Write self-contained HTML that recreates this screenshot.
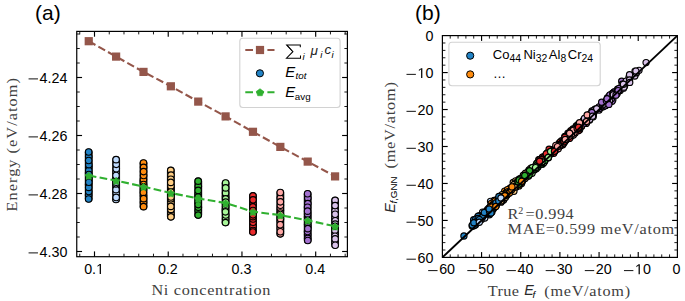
<!DOCTYPE html><html><head><meta charset="utf-8"><style>html,body{margin:0;padding:0;background:#fff;}svg{display:block}</style></head><body><svg width="685" height="301" viewBox="0 0 685 301"><rect width="685" height="301" fill="#fff"/><g><rect x="84.8" y="148.4" width="7.9" height="54.1" rx="3.95" fill="#111"/><circle cx="88.63" cy="194.9" r="3.25" fill="#2283c6" stroke="#000" stroke-width="1.15"/><circle cx="88.77" cy="167.37" r="3.25" fill="#2283c6" stroke="#000" stroke-width="1.15"/><circle cx="88.66" cy="184.41" r="3.25" fill="#2283c6" stroke="#000" stroke-width="1.15"/><circle cx="88.63" cy="172.89" r="3.25" fill="#2283c6" stroke="#000" stroke-width="1.15"/><circle cx="88.81" cy="180.28" r="3.25" fill="#2283c6" stroke="#000" stroke-width="1.15"/><circle cx="88.77" cy="191.47" r="3.25" fill="#2283c6" stroke="#000" stroke-width="1.15"/><circle cx="88.79" cy="176.65" r="3.25" fill="#2283c6" stroke="#000" stroke-width="1.15"/><circle cx="88.75" cy="178.06" r="3.25" fill="#2283c6" stroke="#000" stroke-width="1.15"/><circle cx="88.76" cy="170.46" r="3.25" fill="#2283c6" stroke="#000" stroke-width="1.15"/><circle cx="88.83" cy="164.67" r="3.25" fill="#2283c6" stroke="#000" stroke-width="1.15"/><circle cx="88.74" cy="156.67" r="3.25" fill="#2283c6" stroke="#000" stroke-width="1.15"/><circle cx="88.88" cy="174.52" r="3.25" fill="#2283c6" stroke="#000" stroke-width="1.15"/><circle cx="88.71" cy="187.42" r="3.25" fill="#2283c6" stroke="#000" stroke-width="1.15"/><circle cx="88.67" cy="160.51" r="3.25" fill="#2283c6" stroke="#000" stroke-width="1.15"/><circle cx="88.65" cy="151.95" r="3.25" fill="#2283c6" stroke="#000" stroke-width="1.15"/><circle cx="88.83" cy="182.2" r="3.25" fill="#2283c6" stroke="#000" stroke-width="1.15"/><circle cx="88.62" cy="198.95" r="3.25" fill="#2283c6" stroke="#000" stroke-width="1.15"/><rect x="112.17" y="156.1" width="7.9" height="46.9" rx="3.95" fill="#111"/><circle cx="115.99" cy="199.45" r="3.25" fill="#bfdbff" stroke="#000" stroke-width="1.15"/><circle cx="116.18" cy="192.87" r="3.25" fill="#bfdbff" stroke="#000" stroke-width="1.15"/><circle cx="116.16" cy="172.31" r="3.25" fill="#bfdbff" stroke="#000" stroke-width="1.15"/><circle cx="116.27" cy="168.78" r="3.25" fill="#bfdbff" stroke="#000" stroke-width="1.15"/><circle cx="116.22" cy="164.33" r="3.25" fill="#bfdbff" stroke="#000" stroke-width="1.15"/><circle cx="116.06" cy="178.42" r="3.25" fill="#bfdbff" stroke="#000" stroke-width="1.15"/><circle cx="116.09" cy="159.65" r="3.25" fill="#bfdbff" stroke="#000" stroke-width="1.15"/><circle cx="116.17" cy="197.46" r="3.25" fill="#bfdbff" stroke="#000" stroke-width="1.15"/><circle cx="115.98" cy="180.07" r="3.25" fill="#bfdbff" stroke="#000" stroke-width="1.15"/><circle cx="116.11" cy="186.11" r="3.25" fill="#bfdbff" stroke="#000" stroke-width="1.15"/><circle cx="116.02" cy="189.63" r="3.25" fill="#bfdbff" stroke="#000" stroke-width="1.15"/><circle cx="116.01" cy="175.48" r="3.25" fill="#bfdbff" stroke="#000" stroke-width="1.15"/><circle cx="115.99" cy="183.87" r="3.25" fill="#bfdbff" stroke="#000" stroke-width="1.15"/><circle cx="116.2" cy="182.17" r="3.25" fill="#bfdbff" stroke="#000" stroke-width="1.15"/><rect x="139.54" y="159.4" width="7.9" height="50.8" rx="3.95" fill="#111"/><circle cx="143.34" cy="181.89" r="3.25" fill="#ff8c0f" stroke="#000" stroke-width="1.15"/><circle cx="143.47" cy="189.48" r="3.25" fill="#ff8c0f" stroke="#000" stroke-width="1.15"/><circle cx="143.45" cy="179.6" r="3.25" fill="#ff8c0f" stroke="#000" stroke-width="1.15"/><circle cx="143.51" cy="195.76" r="3.25" fill="#ff8c0f" stroke="#000" stroke-width="1.15"/><circle cx="143.63" cy="175.48" r="3.25" fill="#ff8c0f" stroke="#000" stroke-width="1.15"/><circle cx="143.55" cy="184.46" r="3.25" fill="#ff8c0f" stroke="#000" stroke-width="1.15"/><circle cx="143.49" cy="162.95" r="3.25" fill="#ff8c0f" stroke="#000" stroke-width="1.15"/><circle cx="143.53" cy="186.83" r="3.25" fill="#ff8c0f" stroke="#000" stroke-width="1.15"/><circle cx="143.54" cy="202.18" r="3.25" fill="#ff8c0f" stroke="#000" stroke-width="1.15"/><circle cx="143.36" cy="192.38" r="3.25" fill="#ff8c0f" stroke="#000" stroke-width="1.15"/><circle cx="143.61" cy="198.66" r="3.25" fill="#ff8c0f" stroke="#000" stroke-width="1.15"/><circle cx="143.57" cy="206.65" r="3.25" fill="#ff8c0f" stroke="#000" stroke-width="1.15"/><circle cx="143.6" cy="167.36" r="3.25" fill="#ff8c0f" stroke="#000" stroke-width="1.15"/><circle cx="143.58" cy="171.6" r="3.25" fill="#ff8c0f" stroke="#000" stroke-width="1.15"/><rect x="166.91" y="166.8" width="7.9" height="53.6" rx="3.95" fill="#111"/><circle cx="170.93" cy="200.92" r="3.25" fill="#ffce84" stroke="#000" stroke-width="1.15"/><circle cx="170.85" cy="188.18" r="3.25" fill="#ffce84" stroke="#000" stroke-width="1.15"/><circle cx="170.92" cy="214.11" r="3.25" fill="#ffce84" stroke="#000" stroke-width="1.15"/><circle cx="170.86" cy="195.42" r="3.25" fill="#ffce84" stroke="#000" stroke-width="1.15"/><circle cx="170.77" cy="170.35" r="3.25" fill="#ffce84" stroke="#000" stroke-width="1.15"/><circle cx="171" cy="175.1" r="3.25" fill="#ffce84" stroke="#000" stroke-width="1.15"/><circle cx="170.82" cy="179.25" r="3.25" fill="#ffce84" stroke="#000" stroke-width="1.15"/><circle cx="170.92" cy="209.39" r="3.25" fill="#ffce84" stroke="#000" stroke-width="1.15"/><circle cx="170.98" cy="203.31" r="3.25" fill="#ffce84" stroke="#000" stroke-width="1.15"/><circle cx="170.94" cy="198.74" r="3.25" fill="#ffce84" stroke="#000" stroke-width="1.15"/><circle cx="170.8" cy="206.42" r="3.25" fill="#ffce84" stroke="#000" stroke-width="1.15"/><circle cx="170.9" cy="216.85" r="3.25" fill="#ffce84" stroke="#000" stroke-width="1.15"/><circle cx="170.74" cy="190.11" r="3.25" fill="#ffce84" stroke="#000" stroke-width="1.15"/><circle cx="170.96" cy="185.97" r="3.25" fill="#ffce84" stroke="#000" stroke-width="1.15"/><circle cx="170.87" cy="193.6" r="3.25" fill="#ffce84" stroke="#000" stroke-width="1.15"/><circle cx="170.98" cy="197.02" r="3.25" fill="#ffce84" stroke="#000" stroke-width="1.15"/><circle cx="170.82" cy="192.02" r="3.25" fill="#ffce84" stroke="#000" stroke-width="1.15"/><circle cx="170.78" cy="182.39" r="3.25" fill="#ffce84" stroke="#000" stroke-width="1.15"/><rect x="194.28" y="177.6" width="7.9" height="41" rx="3.95" fill="#111"/><circle cx="198.14" cy="194.05" r="3.25" fill="#30b030" stroke="#000" stroke-width="1.15"/><circle cx="198.26" cy="210.62" r="3.25" fill="#30b030" stroke="#000" stroke-width="1.15"/><circle cx="198.18" cy="215.05" r="3.25" fill="#30b030" stroke="#000" stroke-width="1.15"/><circle cx="198.32" cy="186.22" r="3.25" fill="#30b030" stroke="#000" stroke-width="1.15"/><circle cx="198.3" cy="199.74" r="3.25" fill="#30b030" stroke="#000" stroke-width="1.15"/><circle cx="198.18" cy="181.15" r="3.25" fill="#30b030" stroke="#000" stroke-width="1.15"/><circle cx="198.37" cy="207.23" r="3.25" fill="#30b030" stroke="#000" stroke-width="1.15"/><circle cx="198.1" cy="197.02" r="3.25" fill="#30b030" stroke="#000" stroke-width="1.15"/><circle cx="198.11" cy="202.37" r="3.25" fill="#30b030" stroke="#000" stroke-width="1.15"/><circle cx="198.22" cy="204.57" r="3.25" fill="#30b030" stroke="#000" stroke-width="1.15"/><circle cx="198.18" cy="190.39" r="3.25" fill="#30b030" stroke="#000" stroke-width="1.15"/><rect x="221.65" y="179.4" width="7.9" height="46.7" rx="3.95" fill="#111"/><circle cx="225.46" cy="209.44" r="3.25" fill="#a7f598" stroke="#000" stroke-width="1.15"/><circle cx="225.63" cy="219.11" r="3.25" fill="#a7f598" stroke="#000" stroke-width="1.15"/><circle cx="225.59" cy="196.68" r="3.25" fill="#a7f598" stroke="#000" stroke-width="1.15"/><circle cx="225.65" cy="206.39" r="3.25" fill="#a7f598" stroke="#000" stroke-width="1.15"/><circle cx="225.63" cy="182.95" r="3.25" fill="#a7f598" stroke="#000" stroke-width="1.15"/><circle cx="225.63" cy="204.01" r="3.25" fill="#a7f598" stroke="#000" stroke-width="1.15"/><circle cx="225.59" cy="192.98" r="3.25" fill="#a7f598" stroke="#000" stroke-width="1.15"/><circle cx="225.73" cy="214.96" r="3.25" fill="#a7f598" stroke="#000" stroke-width="1.15"/><circle cx="225.5" cy="222.55" r="3.25" fill="#a7f598" stroke="#000" stroke-width="1.15"/><circle cx="225.61" cy="198.84" r="3.25" fill="#a7f598" stroke="#000" stroke-width="1.15"/><circle cx="225.46" cy="211.8" r="3.25" fill="#a7f598" stroke="#000" stroke-width="1.15"/><circle cx="225.69" cy="202.12" r="3.25" fill="#a7f598" stroke="#000" stroke-width="1.15"/><circle cx="225.67" cy="187.92" r="3.25" fill="#a7f598" stroke="#000" stroke-width="1.15"/><rect x="249.02" y="192.3" width="7.9" height="43.2" rx="3.95" fill="#111"/><circle cx="253.08" cy="204.22" r="3.25" fill="#eb2b2c" stroke="#000" stroke-width="1.15"/><circle cx="253.05" cy="226.37" r="3.25" fill="#eb2b2c" stroke="#000" stroke-width="1.15"/><circle cx="253" cy="230.53" r="3.25" fill="#eb2b2c" stroke="#000" stroke-width="1.15"/><circle cx="253.05" cy="222.2" r="3.25" fill="#eb2b2c" stroke="#000" stroke-width="1.15"/><circle cx="252.86" cy="231.95" r="3.25" fill="#eb2b2c" stroke="#000" stroke-width="1.15"/><circle cx="252.86" cy="206.88" r="3.25" fill="#eb2b2c" stroke="#000" stroke-width="1.15"/><circle cx="253.01" cy="218.99" r="3.25" fill="#eb2b2c" stroke="#000" stroke-width="1.15"/><circle cx="252.86" cy="212.18" r="3.25" fill="#eb2b2c" stroke="#000" stroke-width="1.15"/><circle cx="252.84" cy="216.63" r="3.25" fill="#eb2b2c" stroke="#000" stroke-width="1.15"/><circle cx="253.02" cy="214.86" r="3.25" fill="#eb2b2c" stroke="#000" stroke-width="1.15"/><circle cx="252.98" cy="210.46" r="3.25" fill="#eb2b2c" stroke="#000" stroke-width="1.15"/><circle cx="252.96" cy="195.85" r="3.25" fill="#eb2b2c" stroke="#000" stroke-width="1.15"/><circle cx="253.05" cy="199.85" r="3.25" fill="#eb2b2c" stroke="#000" stroke-width="1.15"/><rect x="276.39" y="188.9" width="7.9" height="48.5" rx="3.95" fill="#111"/><circle cx="280.31" cy="198.06" r="3.25" fill="#ffa7a5" stroke="#000" stroke-width="1.15"/><circle cx="280.28" cy="192.45" r="3.25" fill="#ffa7a5" stroke="#000" stroke-width="1.15"/><circle cx="280.39" cy="210.34" r="3.25" fill="#ffa7a5" stroke="#000" stroke-width="1.15"/><circle cx="280.32" cy="207.95" r="3.25" fill="#ffa7a5" stroke="#000" stroke-width="1.15"/><circle cx="280.25" cy="217.23" r="3.25" fill="#ffa7a5" stroke="#000" stroke-width="1.15"/><circle cx="280.28" cy="233.85" r="3.25" fill="#ffa7a5" stroke="#000" stroke-width="1.15"/><circle cx="280.23" cy="221.1" r="3.25" fill="#ffa7a5" stroke="#000" stroke-width="1.15"/><circle cx="280.42" cy="205.25" r="3.25" fill="#ffa7a5" stroke="#000" stroke-width="1.15"/><circle cx="280.47" cy="218.84" r="3.25" fill="#ffa7a5" stroke="#000" stroke-width="1.15"/><circle cx="280.38" cy="201.82" r="3.25" fill="#ffa7a5" stroke="#000" stroke-width="1.15"/><circle cx="280.3" cy="228.29" r="3.25" fill="#ffa7a5" stroke="#000" stroke-width="1.15"/><circle cx="280.27" cy="212.95" r="3.25" fill="#ffa7a5" stroke="#000" stroke-width="1.15"/><circle cx="280.23" cy="224.72" r="3.25" fill="#ffa7a5" stroke="#000" stroke-width="1.15"/><circle cx="280.33" cy="231.72" r="3.25" fill="#ffa7a5" stroke="#000" stroke-width="1.15"/><circle cx="280.41" cy="214.51" r="3.25" fill="#ffa7a5" stroke="#000" stroke-width="1.15"/><rect x="303.76" y="190.2" width="7.9" height="53.8" rx="3.95" fill="#111"/><circle cx="307.64" cy="224.25" r="3.25" fill="#a371d0" stroke="#000" stroke-width="1.15"/><circle cx="307.6" cy="217.07" r="3.25" fill="#a371d0" stroke="#000" stroke-width="1.15"/><circle cx="307.69" cy="234.66" r="3.25" fill="#a371d0" stroke="#000" stroke-width="1.15"/><circle cx="307.83" cy="226.52" r="3.25" fill="#a371d0" stroke="#000" stroke-width="1.15"/><circle cx="307.81" cy="198.1" r="3.25" fill="#a371d0" stroke="#000" stroke-width="1.15"/><circle cx="307.64" cy="213.91" r="3.25" fill="#a371d0" stroke="#000" stroke-width="1.15"/><circle cx="307.6" cy="193.75" r="3.25" fill="#a371d0" stroke="#000" stroke-width="1.15"/><circle cx="307.84" cy="203.58" r="3.25" fill="#a371d0" stroke="#000" stroke-width="1.15"/><circle cx="307.73" cy="238.43" r="3.25" fill="#a371d0" stroke="#000" stroke-width="1.15"/><circle cx="307.77" cy="240.45" r="3.25" fill="#a371d0" stroke="#000" stroke-width="1.15"/><circle cx="307.59" cy="231.5" r="3.25" fill="#a371d0" stroke="#000" stroke-width="1.15"/><circle cx="307.58" cy="207.2" r="3.25" fill="#a371d0" stroke="#000" stroke-width="1.15"/><circle cx="307.77" cy="222.15" r="3.25" fill="#a371d0" stroke="#000" stroke-width="1.15"/><circle cx="307.69" cy="220.29" r="3.25" fill="#a371d0" stroke="#000" stroke-width="1.15"/><circle cx="307.58" cy="211.17" r="3.25" fill="#a371d0" stroke="#000" stroke-width="1.15"/><circle cx="307.84" cy="228.65" r="3.25" fill="#a371d0" stroke="#000" stroke-width="1.15"/><rect x="331.13" y="196.8" width="7.9" height="52" rx="3.95" fill="#111"/><circle cx="335.01" cy="218.41" r="3.25" fill="#d9c2ea" stroke="#000" stroke-width="1.15"/><circle cx="335.17" cy="233.6" r="3.25" fill="#d9c2ea" stroke="#000" stroke-width="1.15"/><circle cx="335.23" cy="220.77" r="3.25" fill="#d9c2ea" stroke="#000" stroke-width="1.15"/><circle cx="334.94" cy="228.05" r="3.25" fill="#d9c2ea" stroke="#000" stroke-width="1.15"/><circle cx="334.94" cy="230.37" r="3.25" fill="#d9c2ea" stroke="#000" stroke-width="1.15"/><circle cx="335.08" cy="242.66" r="3.25" fill="#d9c2ea" stroke="#000" stroke-width="1.15"/><circle cx="335.22" cy="224.09" r="3.25" fill="#d9c2ea" stroke="#000" stroke-width="1.15"/><circle cx="335.08" cy="226.31" r="3.25" fill="#d9c2ea" stroke="#000" stroke-width="1.15"/><circle cx="335" cy="236.2" r="3.25" fill="#d9c2ea" stroke="#000" stroke-width="1.15"/><circle cx="335.06" cy="210.82" r="3.25" fill="#d9c2ea" stroke="#000" stroke-width="1.15"/><circle cx="335.13" cy="238.93" r="3.25" fill="#d9c2ea" stroke="#000" stroke-width="1.15"/><circle cx="335.13" cy="200.35" r="3.25" fill="#d9c2ea" stroke="#000" stroke-width="1.15"/><circle cx="335.13" cy="214.22" r="3.25" fill="#d9c2ea" stroke="#000" stroke-width="1.15"/><circle cx="335.09" cy="205.57" r="3.25" fill="#d9c2ea" stroke="#000" stroke-width="1.15"/><circle cx="335.2" cy="245.25" r="3.25" fill="#d9c2ea" stroke="#000" stroke-width="1.15"/></g><polyline points="88.75,41.2 116.12,56.6 143.49,71.9 170.86,86.3 198.23,101.6 225.6,116.4 252.97,131.8 280.34,146.9 307.71,161.6 335.08,176.4" fill="none" stroke="#94564a" stroke-width="2.1" stroke-dasharray="7.7 3.35"/><rect x="84.65" y="37.1" width="8.2" height="8.2" fill="#94564a"/><rect x="112.02" y="52.5" width="8.2" height="8.2" fill="#94564a"/><rect x="139.39" y="67.8" width="8.2" height="8.2" fill="#94564a"/><rect x="166.76" y="82.2" width="8.2" height="8.2" fill="#94564a"/><rect x="194.13" y="97.5" width="8.2" height="8.2" fill="#94564a"/><rect x="221.5" y="112.3" width="8.2" height="8.2" fill="#94564a"/><rect x="248.87" y="127.7" width="8.2" height="8.2" fill="#94564a"/><rect x="276.24" y="142.8" width="8.2" height="8.2" fill="#94564a"/><rect x="303.61" y="157.5" width="8.2" height="8.2" fill="#94564a"/><rect x="330.98" y="172.3" width="8.2" height="8.2" fill="#94564a"/><polyline points="88.75,175.5 116.12,180.6 143.49,186.6 170.86,193 198.23,198.5 225.6,203 252.97,211.7 280.34,215.1 307.71,220.4 335.08,226.3" fill="none" stroke="#30b030" stroke-width="2.1" stroke-dasharray="7.7 3.35"/><polygon points="88.75,172 90.24,174.04 92.65,174.83 91.17,176.89 91.16,179.42 88.75,178.64 86.34,179.42 86.33,176.89 84.85,174.83 87.26,174.04" fill="#30b030" stroke="#30b030" stroke-width="0.6" stroke-linejoin="round"/><polygon points="116.12,177.1 117.61,179.14 120.02,179.93 118.54,181.99 118.53,184.52 116.12,183.74 113.71,184.52 113.7,181.99 112.22,179.93 114.63,179.14" fill="#30b030" stroke="#30b030" stroke-width="0.6" stroke-linejoin="round"/><polygon points="143.49,183.1 144.98,185.14 147.39,185.93 145.91,187.99 145.9,190.52 143.49,189.74 141.08,190.52 141.07,187.99 139.59,185.93 142,185.14" fill="#30b030" stroke="#30b030" stroke-width="0.6" stroke-linejoin="round"/><polygon points="170.86,189.5 172.35,191.54 174.76,192.33 173.28,194.39 173.27,196.92 170.86,196.14 168.45,196.92 168.44,194.39 166.96,192.33 169.37,191.54" fill="#30b030" stroke="#30b030" stroke-width="0.6" stroke-linejoin="round"/><polygon points="198.23,195 199.72,197.04 202.13,197.83 200.65,199.89 200.64,202.42 198.23,201.64 195.82,202.42 195.81,199.89 194.33,197.83 196.74,197.04" fill="#30b030" stroke="#30b030" stroke-width="0.6" stroke-linejoin="round"/><polygon points="225.6,199.5 227.09,201.54 229.5,202.33 228.02,204.39 228.01,206.92 225.6,206.14 223.19,206.92 223.18,204.39 221.7,202.33 224.11,201.54" fill="#30b030" stroke="#30b030" stroke-width="0.6" stroke-linejoin="round"/><polygon points="252.97,208.2 254.46,210.24 256.87,211.03 255.39,213.09 255.38,215.62 252.97,214.84 250.56,215.62 250.55,213.09 249.07,211.03 251.48,210.24" fill="#30b030" stroke="#30b030" stroke-width="0.6" stroke-linejoin="round"/><polygon points="280.34,211.6 281.83,213.64 284.24,214.43 282.76,216.49 282.75,219.02 280.34,218.24 277.93,219.02 277.92,216.49 276.44,214.43 278.85,213.64" fill="#30b030" stroke="#30b030" stroke-width="0.6" stroke-linejoin="round"/><polygon points="307.71,216.9 309.2,218.94 311.61,219.73 310.13,221.79 310.12,224.32 307.71,223.54 305.3,224.32 305.29,221.79 303.81,219.73 306.22,218.94" fill="#30b030" stroke="#30b030" stroke-width="0.6" stroke-linejoin="round"/><polygon points="335.08,222.8 336.57,224.84 338.98,225.63 337.5,227.69 337.49,230.22 335.08,229.44 332.67,230.22 332.66,227.69 331.18,225.63 333.59,224.84" fill="#30b030" stroke="#30b030" stroke-width="0.6" stroke-linejoin="round"/><rect x="76.75" y="31.4" width="270.65" height="225.3" fill="none" stroke="#000" stroke-width="1.2"/><line x1="79.75" y1="256.7" x2="79.75" y2="253.7" stroke="#000" stroke-width="0.9" /><line x1="79.75" y1="31.4" x2="79.75" y2="34.4" stroke="#000" stroke-width="0.9" /><line x1="94.5" y1="256.7" x2="94.5" y2="251.4" stroke="#000" stroke-width="1.15" /><line x1="94.5" y1="31.4" x2="94.5" y2="36.7" stroke="#000" stroke-width="1.15" /><line x1="109.25" y1="256.7" x2="109.25" y2="253.7" stroke="#000" stroke-width="0.9" /><line x1="109.25" y1="31.4" x2="109.25" y2="34.4" stroke="#000" stroke-width="0.9" /><line x1="123.99" y1="256.7" x2="123.99" y2="253.7" stroke="#000" stroke-width="0.9" /><line x1="123.99" y1="31.4" x2="123.99" y2="34.4" stroke="#000" stroke-width="0.9" /><line x1="138.74" y1="256.7" x2="138.74" y2="253.7" stroke="#000" stroke-width="0.9" /><line x1="138.74" y1="31.4" x2="138.74" y2="34.4" stroke="#000" stroke-width="0.9" /><line x1="153.48" y1="256.7" x2="153.48" y2="253.7" stroke="#000" stroke-width="0.9" /><line x1="153.48" y1="31.4" x2="153.48" y2="34.4" stroke="#000" stroke-width="0.9" /><line x1="168.23" y1="256.7" x2="168.23" y2="251.4" stroke="#000" stroke-width="1.15" /><line x1="168.23" y1="31.4" x2="168.23" y2="36.7" stroke="#000" stroke-width="1.15" /><line x1="182.98" y1="256.7" x2="182.98" y2="253.7" stroke="#000" stroke-width="0.9" /><line x1="182.98" y1="31.4" x2="182.98" y2="34.4" stroke="#000" stroke-width="0.9" /><line x1="197.72" y1="256.7" x2="197.72" y2="253.7" stroke="#000" stroke-width="0.9" /><line x1="197.72" y1="31.4" x2="197.72" y2="34.4" stroke="#000" stroke-width="0.9" /><line x1="212.47" y1="256.7" x2="212.47" y2="253.7" stroke="#000" stroke-width="0.9" /><line x1="212.47" y1="31.4" x2="212.47" y2="34.4" stroke="#000" stroke-width="0.9" /><line x1="227.21" y1="256.7" x2="227.21" y2="253.7" stroke="#000" stroke-width="0.9" /><line x1="227.21" y1="31.4" x2="227.21" y2="34.4" stroke="#000" stroke-width="0.9" /><line x1="241.96" y1="256.7" x2="241.96" y2="251.4" stroke="#000" stroke-width="1.15" /><line x1="241.96" y1="31.4" x2="241.96" y2="36.7" stroke="#000" stroke-width="1.15" /><line x1="256.71" y1="256.7" x2="256.71" y2="253.7" stroke="#000" stroke-width="0.9" /><line x1="256.71" y1="31.4" x2="256.71" y2="34.4" stroke="#000" stroke-width="0.9" /><line x1="271.45" y1="256.7" x2="271.45" y2="253.7" stroke="#000" stroke-width="0.9" /><line x1="271.45" y1="31.4" x2="271.45" y2="34.4" stroke="#000" stroke-width="0.9" /><line x1="286.2" y1="256.7" x2="286.2" y2="253.7" stroke="#000" stroke-width="0.9" /><line x1="286.2" y1="31.4" x2="286.2" y2="34.4" stroke="#000" stroke-width="0.9" /><line x1="300.94" y1="256.7" x2="300.94" y2="253.7" stroke="#000" stroke-width="0.9" /><line x1="300.94" y1="31.4" x2="300.94" y2="34.4" stroke="#000" stroke-width="0.9" /><line x1="315.69" y1="256.7" x2="315.69" y2="251.4" stroke="#000" stroke-width="1.15" /><line x1="315.69" y1="31.4" x2="315.69" y2="36.7" stroke="#000" stroke-width="1.15" /><line x1="330.44" y1="256.7" x2="330.44" y2="253.7" stroke="#000" stroke-width="0.9" /><line x1="330.44" y1="31.4" x2="330.44" y2="34.4" stroke="#000" stroke-width="0.9" /><line x1="345.18" y1="256.7" x2="345.18" y2="253.7" stroke="#000" stroke-width="0.9" /><line x1="345.18" y1="31.4" x2="345.18" y2="34.4" stroke="#000" stroke-width="0.9" /><line x1="76.75" y1="34" x2="79.75" y2="34" stroke="#000" stroke-width="0.9" /><line x1="347.4" y1="34" x2="344.4" y2="34" stroke="#000" stroke-width="0.9" /><line x1="76.75" y1="48.5" x2="79.75" y2="48.5" stroke="#000" stroke-width="0.9" /><line x1="347.4" y1="48.5" x2="344.4" y2="48.5" stroke="#000" stroke-width="0.9" /><line x1="76.75" y1="63" x2="79.75" y2="63" stroke="#000" stroke-width="0.9" /><line x1="347.4" y1="63" x2="344.4" y2="63" stroke="#000" stroke-width="0.9" /><line x1="76.75" y1="77.5" x2="82.05" y2="77.5" stroke="#000" stroke-width="1.15" /><line x1="347.4" y1="77.5" x2="342.1" y2="77.5" stroke="#000" stroke-width="1.15" /><line x1="76.75" y1="92" x2="79.75" y2="92" stroke="#000" stroke-width="0.9" /><line x1="347.4" y1="92" x2="344.4" y2="92" stroke="#000" stroke-width="0.9" /><line x1="76.75" y1="106.5" x2="79.75" y2="106.5" stroke="#000" stroke-width="0.9" /><line x1="347.4" y1="106.5" x2="344.4" y2="106.5" stroke="#000" stroke-width="0.9" /><line x1="76.75" y1="121" x2="79.75" y2="121" stroke="#000" stroke-width="0.9" /><line x1="347.4" y1="121" x2="344.4" y2="121" stroke="#000" stroke-width="0.9" /><line x1="76.75" y1="135.5" x2="82.05" y2="135.5" stroke="#000" stroke-width="1.15" /><line x1="347.4" y1="135.5" x2="342.1" y2="135.5" stroke="#000" stroke-width="1.15" /><line x1="76.75" y1="150" x2="79.75" y2="150" stroke="#000" stroke-width="0.9" /><line x1="347.4" y1="150" x2="344.4" y2="150" stroke="#000" stroke-width="0.9" /><line x1="76.75" y1="164.5" x2="79.75" y2="164.5" stroke="#000" stroke-width="0.9" /><line x1="347.4" y1="164.5" x2="344.4" y2="164.5" stroke="#000" stroke-width="0.9" /><line x1="76.75" y1="179" x2="79.75" y2="179" stroke="#000" stroke-width="0.9" /><line x1="347.4" y1="179" x2="344.4" y2="179" stroke="#000" stroke-width="0.9" /><line x1="76.75" y1="193.5" x2="82.05" y2="193.5" stroke="#000" stroke-width="1.15" /><line x1="347.4" y1="193.5" x2="342.1" y2="193.5" stroke="#000" stroke-width="1.15" /><line x1="76.75" y1="208" x2="79.75" y2="208" stroke="#000" stroke-width="0.9" /><line x1="347.4" y1="208" x2="344.4" y2="208" stroke="#000" stroke-width="0.9" /><line x1="76.75" y1="222.5" x2="79.75" y2="222.5" stroke="#000" stroke-width="0.9" /><line x1="347.4" y1="222.5" x2="344.4" y2="222.5" stroke="#000" stroke-width="0.9" /><line x1="76.75" y1="237" x2="79.75" y2="237" stroke="#000" stroke-width="0.9" /><line x1="347.4" y1="237" x2="344.4" y2="237" stroke="#000" stroke-width="0.9" /><line x1="76.75" y1="251.5" x2="82.05" y2="251.5" stroke="#000" stroke-width="1.15" /><line x1="347.4" y1="251.5" x2="342.1" y2="251.5" stroke="#000" stroke-width="1.15" /><line x1="28.57" y1="78.9" x2="37.97" y2="78.9" stroke="#111" stroke-width="1.0" /><text x="39.57" y="82.5" font-size="14.3" text-anchor="start" font-family='"Liberation Sans", sans-serif' >4.24</text><line x1="28.57" y1="136.9" x2="37.97" y2="136.9" stroke="#111" stroke-width="1.0" /><text x="39.57" y="140.5" font-size="14.3" text-anchor="start" font-family='"Liberation Sans", sans-serif' >4.26</text><line x1="28.57" y1="194.9" x2="37.97" y2="194.9" stroke="#111" stroke-width="1.0" /><text x="39.57" y="198.5" font-size="14.3" text-anchor="start" font-family='"Liberation Sans", sans-serif' >4.28</text><line x1="28.57" y1="252.9" x2="37.97" y2="252.9" stroke="#111" stroke-width="1.0" /><text x="39.57" y="256.5" font-size="14.3" text-anchor="start" font-family='"Liberation Sans", sans-serif' >4.30</text><text x="84.16" y="273.9" font-size="14.3" text-anchor="start" font-family='"Liberation Sans", sans-serif' >0.&#8199;</text><path transform="translate(96.09,273.9) scale(0.00698,-0.00698)" d="M515,0 L515,1237 L197,1010 L197,1180 L530,1409 L696,1409 L696,0 Z"/><text x="157.89" y="273.9" font-size="14.3" text-anchor="start" font-family='"Liberation Sans", sans-serif' >0.2</text><text x="231.62" y="273.9" font-size="14.3" text-anchor="start" font-family='"Liberation Sans", sans-serif' >0.3</text><text x="305.35" y="273.9" font-size="14.3" text-anchor="start" font-family='"Liberation Sans", sans-serif' >0.4</text><rect x="239.8" y="38.2" width="100.3" height="69.3" rx="3" fill="#fff" fill-opacity="0.85" stroke="#d2d2d2" stroke-width="1.1"/><line x1="245.3" y1="50" x2="274.5" y2="50" stroke="#94564a" stroke-width="2.1" stroke-dasharray="7.7 3.35"/><rect x="255.9" y="45.9" width="8.2" height="8.2" fill="#94564a"/><circle cx="259.9" cy="73.3" r="3.6" fill="#2283c6" stroke="#000" stroke-width="1.0"/><line x1="245.3" y1="92.2" x2="274.5" y2="92.2" stroke="#30b030" stroke-width="2.1" stroke-dasharray="7.7 3.35"/><polygon points="260,88.7 261.83,90.08 263.71,91.39 262.97,93.56 262.29,95.76 260,95.72 257.71,95.76 257.03,93.56 256.29,91.39 258.17,90.08" fill="#30b030" stroke="#30b030" stroke-width="0.6" stroke-linejoin="round"/><path d="M300.3,47.3 L300.3,44.9 L286.7,44.9 L292.9,51.7 L286.5,58.2 L300.5,58.2 L300.5,55.6" fill="none" stroke="#000" stroke-width="1.05" stroke-linejoin="miter"/><path d="M286.9,45.2 L292.6,51.5" stroke="#000" stroke-width="1.0" fill="none"/><text x="302.4" y="59.6" font-family='"Liberation Sans", sans-serif' font-size="9.6" font-style="italic">i</text><text x="310.4" y="55.4" font-family='"Liberation Sans", sans-serif' font-size="13.5" font-style="italic" fill="#222">&#956;</text><text x="320.3" y="57.6" font-family='"Liberation Sans", sans-serif' font-size="9.6" font-style="italic">i</text><text x="324.6" y="54.4" font-family='"Liberation Sans", sans-serif' font-size="13.4" font-style="italic" fill="#222">c</text><text x="331.4" y="57.6" font-family='"Liberation Sans", sans-serif' font-size="9.6" font-style="italic">i</text><text x="285.3" y="76.6" font-family='"Liberation Sans", sans-serif' font-size="14.8" font-style="italic">E</text><text x="295.6" y="79.3" font-family='"Liberation Sans", sans-serif' font-size="9.8" font-style="italic">tot</text><text x="285.3" y="97" font-family='"Liberation Sans", sans-serif' font-size="14.8" font-style="italic">E</text><text x="294.8" y="99.6" font-family='"Liberation Sans", sans-serif' font-size="9.8">avg</text><text transform="translate(151.4,295) scale(1.12,1)" x="0" y="0" font-family='"Liberation Serif", serif' font-size="14.5" textLength="106.25" lengthAdjust="spacing" fill="#404040" >Ni concentration</text><text transform="translate(16.6,211.4) rotate(-90) scale(1.12,1)" x="0" y="0" font-family='"Liberation Serif", serif' font-size="14.5" textLength="118.93" lengthAdjust="spacing" fill="#404040" >Energy (eV/atom)</text><text x="35.1" y="19.6" font-family='"Liberation Sans", sans-serif' font-size="21">(a)</text><g><circle cx="581.54" cy="126.24" r="3.1" fill="#ffa7a5" stroke="#000" stroke-width="1.15"/><circle cx="571.17" cy="136.15" r="3.1" fill="#ffa7a5" stroke="#000" stroke-width="1.15"/><circle cx="544.48" cy="158.33" r="3.1" fill="#30b030" stroke="#000" stroke-width="1.15"/><circle cx="542.35" cy="164.18" r="3.1" fill="#30b030" stroke="#000" stroke-width="1.15"/><circle cx="509.57" cy="191.15" r="3.1" fill="#ffce84" stroke="#000" stroke-width="1.15"/><circle cx="516.06" cy="183.74" r="3.1" fill="#ff8c0f" stroke="#000" stroke-width="1.15"/><circle cx="490.11" cy="209.29" r="3.1" fill="#bfdbff" stroke="#000" stroke-width="1.15"/><circle cx="579.24" cy="126.7" r="3.1" fill="#eb2b2c" stroke="#000" stroke-width="1.15"/><circle cx="504.71" cy="191.13" r="3.1" fill="#ff8c0f" stroke="#000" stroke-width="1.15"/><circle cx="553.42" cy="149.43" r="3.1" fill="#eb2b2c" stroke="#000" stroke-width="1.15"/><circle cx="550.67" cy="152.26" r="3.1" fill="#a7f598" stroke="#000" stroke-width="1.15"/><circle cx="529.04" cy="169.82" r="3.1" fill="#a7f598" stroke="#000" stroke-width="1.15"/><circle cx="562.15" cy="143.81" r="3.1" fill="#eb2b2c" stroke="#000" stroke-width="1.15"/><circle cx="636.27" cy="73.18" r="3.1" fill="#d9c2ea" stroke="#000" stroke-width="1.15"/><circle cx="479.6" cy="218.25" r="3.1" fill="#bfdbff" stroke="#000" stroke-width="1.15"/><circle cx="554.34" cy="150.73" r="3.1" fill="#eb2b2c" stroke="#000" stroke-width="1.15"/><circle cx="542.69" cy="160.1" r="3.1" fill="#a7f598" stroke="#000" stroke-width="1.15"/><circle cx="506.83" cy="192.36" r="3.1" fill="#ff8c0f" stroke="#000" stroke-width="1.15"/><circle cx="490.95" cy="209.58" r="3.1" fill="#ff8c0f" stroke="#000" stroke-width="1.15"/><circle cx="516.23" cy="187.1" r="3.1" fill="#ffce84" stroke="#000" stroke-width="1.15"/><circle cx="495.29" cy="204.9" r="3.1" fill="#bfdbff" stroke="#000" stroke-width="1.15"/><circle cx="489.4" cy="214.87" r="3.1" fill="#2283c6" stroke="#000" stroke-width="1.15"/><circle cx="559.72" cy="143.54" r="3.1" fill="#ffa7a5" stroke="#000" stroke-width="1.15"/><circle cx="621.71" cy="81.27" r="3.1" fill="#a371d0" stroke="#000" stroke-width="1.15"/><circle cx="527.86" cy="172.81" r="3.1" fill="#ffce84" stroke="#000" stroke-width="1.15"/><circle cx="521.72" cy="180.23" r="3.1" fill="#30b030" stroke="#000" stroke-width="1.15"/><circle cx="513.21" cy="182.54" r="3.1" fill="#ffce84" stroke="#000" stroke-width="1.15"/><circle cx="555.64" cy="148" r="3.1" fill="#ffa7a5" stroke="#000" stroke-width="1.15"/><circle cx="629" cy="77.39" r="3.1" fill="#d9c2ea" stroke="#000" stroke-width="1.15"/><circle cx="533.69" cy="168.1" r="3.1" fill="#30b030" stroke="#000" stroke-width="1.15"/><circle cx="502.96" cy="195.97" r="3.1" fill="#ffce84" stroke="#000" stroke-width="1.15"/><circle cx="499.98" cy="201.28" r="3.1" fill="#ffce84" stroke="#000" stroke-width="1.15"/><circle cx="502.51" cy="198.82" r="3.1" fill="#ff8c0f" stroke="#000" stroke-width="1.15"/><circle cx="520.91" cy="182.39" r="3.1" fill="#ffce84" stroke="#000" stroke-width="1.15"/><circle cx="517.02" cy="185.65" r="3.1" fill="#30b030" stroke="#000" stroke-width="1.15"/><circle cx="492.42" cy="206.87" r="3.1" fill="#2283c6" stroke="#000" stroke-width="1.15"/><circle cx="531.97" cy="171.26" r="3.1" fill="#a7f598" stroke="#000" stroke-width="1.15"/><circle cx="529.96" cy="172.84" r="3.1" fill="#ffce84" stroke="#000" stroke-width="1.15"/><circle cx="510.11" cy="188.2" r="3.1" fill="#ff8c0f" stroke="#000" stroke-width="1.15"/><circle cx="620.19" cy="90.62" r="3.1" fill="#d9c2ea" stroke="#000" stroke-width="1.15"/><circle cx="620.43" cy="87.86" r="3.1" fill="#d9c2ea" stroke="#000" stroke-width="1.15"/><circle cx="585.85" cy="119.27" r="3.1" fill="#d9c2ea" stroke="#000" stroke-width="1.15"/><circle cx="502.66" cy="195.28" r="3.1" fill="#ff8c0f" stroke="#000" stroke-width="1.15"/><circle cx="481.44" cy="219.53" r="3.1" fill="#bfdbff" stroke="#000" stroke-width="1.15"/><circle cx="605.69" cy="105.44" r="3.1" fill="#d9c2ea" stroke="#000" stroke-width="1.15"/><circle cx="540.43" cy="161.62" r="3.1" fill="#30b030" stroke="#000" stroke-width="1.15"/><circle cx="598.09" cy="108.44" r="3.1" fill="#a371d0" stroke="#000" stroke-width="1.15"/><circle cx="513.95" cy="185.22" r="3.1" fill="#ff8c0f" stroke="#000" stroke-width="1.15"/><circle cx="572.97" cy="129.03" r="3.1" fill="#eb2b2c" stroke="#000" stroke-width="1.15"/><circle cx="522.2" cy="177.66" r="3.1" fill="#30b030" stroke="#000" stroke-width="1.15"/><circle cx="612.86" cy="99.69" r="3.1" fill="#d9c2ea" stroke="#000" stroke-width="1.15"/><circle cx="482.1" cy="216.93" r="3.1" fill="#2283c6" stroke="#000" stroke-width="1.15"/><circle cx="566.29" cy="139.83" r="3.1" fill="#eb2b2c" stroke="#000" stroke-width="1.15"/><circle cx="501.54" cy="196.42" r="3.1" fill="#ff8c0f" stroke="#000" stroke-width="1.15"/><circle cx="496.25" cy="204.18" r="3.1" fill="#2283c6" stroke="#000" stroke-width="1.15"/><circle cx="521.57" cy="183.39" r="3.1" fill="#ff8c0f" stroke="#000" stroke-width="1.15"/><circle cx="500.94" cy="198.3" r="3.1" fill="#ff8c0f" stroke="#000" stroke-width="1.15"/><circle cx="538.75" cy="159.55" r="3.1" fill="#a7f598" stroke="#000" stroke-width="1.15"/><circle cx="584.96" cy="121.48" r="3.1" fill="#a371d0" stroke="#000" stroke-width="1.15"/><circle cx="530.49" cy="173.43" r="3.1" fill="#a7f598" stroke="#000" stroke-width="1.15"/><circle cx="541.87" cy="162.49" r="3.1" fill="#eb2b2c" stroke="#000" stroke-width="1.15"/><circle cx="604.87" cy="104.52" r="3.1" fill="#d9c2ea" stroke="#000" stroke-width="1.15"/><circle cx="616.46" cy="91.26" r="3.1" fill="#d9c2ea" stroke="#000" stroke-width="1.15"/><circle cx="513.73" cy="186.58" r="3.1" fill="#ff8c0f" stroke="#000" stroke-width="1.15"/><circle cx="490.01" cy="210.85" r="3.1" fill="#2283c6" stroke="#000" stroke-width="1.15"/><circle cx="582.22" cy="124.22" r="3.1" fill="#a371d0" stroke="#000" stroke-width="1.15"/><circle cx="581.6" cy="126.1" r="3.1" fill="#a371d0" stroke="#000" stroke-width="1.15"/><circle cx="570.81" cy="130.75" r="3.1" fill="#eb2b2c" stroke="#000" stroke-width="1.15"/><circle cx="617.06" cy="92.1" r="3.1" fill="#d9c2ea" stroke="#000" stroke-width="1.15"/><circle cx="581.5" cy="122.85" r="3.1" fill="#ffa7a5" stroke="#000" stroke-width="1.15"/><circle cx="483.54" cy="217.5" r="3.1" fill="#2283c6" stroke="#000" stroke-width="1.15"/><circle cx="614.32" cy="93.71" r="3.1" fill="#a371d0" stroke="#000" stroke-width="1.15"/><circle cx="585.84" cy="120.51" r="3.1" fill="#ffa7a5" stroke="#000" stroke-width="1.15"/><circle cx="525.31" cy="177.65" r="3.1" fill="#30b030" stroke="#000" stroke-width="1.15"/><circle cx="564.1" cy="140.43" r="3.1" fill="#eb2b2c" stroke="#000" stroke-width="1.15"/><circle cx="537.96" cy="167.1" r="3.1" fill="#a7f598" stroke="#000" stroke-width="1.15"/><circle cx="532.06" cy="171.06" r="3.1" fill="#a7f598" stroke="#000" stroke-width="1.15"/><circle cx="540.17" cy="161.25" r="3.1" fill="#30b030" stroke="#000" stroke-width="1.15"/><circle cx="515.72" cy="180.88" r="3.1" fill="#ffce84" stroke="#000" stroke-width="1.15"/><circle cx="579.63" cy="129.68" r="3.1" fill="#ffa7a5" stroke="#000" stroke-width="1.15"/><circle cx="519.97" cy="181.66" r="3.1" fill="#30b030" stroke="#000" stroke-width="1.15"/><circle cx="624.56" cy="86.03" r="3.1" fill="#d9c2ea" stroke="#000" stroke-width="1.15"/><circle cx="590.73" cy="116.93" r="3.1" fill="#d9c2ea" stroke="#000" stroke-width="1.15"/><circle cx="546.71" cy="155.64" r="3.1" fill="#eb2b2c" stroke="#000" stroke-width="1.15"/><circle cx="591.88" cy="116.05" r="3.1" fill="#d9c2ea" stroke="#000" stroke-width="1.15"/><circle cx="514.37" cy="186.78" r="3.1" fill="#ff8c0f" stroke="#000" stroke-width="1.15"/><circle cx="502.76" cy="197.58" r="3.1" fill="#ffce84" stroke="#000" stroke-width="1.15"/><circle cx="555.15" cy="150.78" r="3.1" fill="#ffa7a5" stroke="#000" stroke-width="1.15"/><circle cx="568" cy="133.13" r="3.1" fill="#a371d0" stroke="#000" stroke-width="1.15"/><circle cx="567.55" cy="135.39" r="3.1" fill="#a371d0" stroke="#000" stroke-width="1.15"/><circle cx="496.16" cy="205.29" r="3.1" fill="#bfdbff" stroke="#000" stroke-width="1.15"/><circle cx="536.08" cy="167.64" r="3.1" fill="#a7f598" stroke="#000" stroke-width="1.15"/><circle cx="578.08" cy="124.84" r="3.1" fill="#eb2b2c" stroke="#000" stroke-width="1.15"/><circle cx="507.45" cy="194.13" r="3.1" fill="#ffce84" stroke="#000" stroke-width="1.15"/><circle cx="550.52" cy="149.79" r="3.1" fill="#eb2b2c" stroke="#000" stroke-width="1.15"/><circle cx="555.35" cy="149.41" r="3.1" fill="#eb2b2c" stroke="#000" stroke-width="1.15"/><circle cx="526.03" cy="175.85" r="3.1" fill="#30b030" stroke="#000" stroke-width="1.15"/><circle cx="487.86" cy="212.04" r="3.1" fill="#2283c6" stroke="#000" stroke-width="1.15"/><circle cx="568.54" cy="136.91" r="3.1" fill="#ffa7a5" stroke="#000" stroke-width="1.15"/><circle cx="502.82" cy="196.41" r="3.1" fill="#ffce84" stroke="#000" stroke-width="1.15"/><circle cx="548.15" cy="154.73" r="3.1" fill="#30b030" stroke="#000" stroke-width="1.15"/><circle cx="542.76" cy="159.91" r="3.1" fill="#30b030" stroke="#000" stroke-width="1.15"/><circle cx="565.32" cy="136.74" r="3.1" fill="#eb2b2c" stroke="#000" stroke-width="1.15"/><circle cx="594.43" cy="111.29" r="3.1" fill="#d9c2ea" stroke="#000" stroke-width="1.15"/><circle cx="574.84" cy="131.14" r="3.1" fill="#a371d0" stroke="#000" stroke-width="1.15"/><circle cx="601.09" cy="107.41" r="3.1" fill="#a371d0" stroke="#000" stroke-width="1.15"/><circle cx="604.79" cy="104.08" r="3.1" fill="#a371d0" stroke="#000" stroke-width="1.15"/><circle cx="479.95" cy="218.6" r="3.1" fill="#bfdbff" stroke="#000" stroke-width="1.15"/><circle cx="573.39" cy="132.77" r="3.1" fill="#eb2b2c" stroke="#000" stroke-width="1.15"/><circle cx="526.01" cy="174.98" r="3.1" fill="#ffce84" stroke="#000" stroke-width="1.15"/><circle cx="491.93" cy="212.06" r="3.1" fill="#ff8c0f" stroke="#000" stroke-width="1.15"/><circle cx="557.3" cy="146.3" r="3.1" fill="#ffa7a5" stroke="#000" stroke-width="1.15"/><circle cx="563.67" cy="140.21" r="3.1" fill="#eb2b2c" stroke="#000" stroke-width="1.15"/><circle cx="553.79" cy="153.32" r="3.1" fill="#eb2b2c" stroke="#000" stroke-width="1.15"/><circle cx="487.68" cy="209.53" r="3.1" fill="#ff8c0f" stroke="#000" stroke-width="1.15"/><circle cx="509.29" cy="190.86" r="3.1" fill="#ffce84" stroke="#000" stroke-width="1.15"/><circle cx="583.53" cy="120.3" r="3.1" fill="#a371d0" stroke="#000" stroke-width="1.15"/><circle cx="578.85" cy="126.55" r="3.1" fill="#ffa7a5" stroke="#000" stroke-width="1.15"/><circle cx="570.35" cy="132.49" r="3.1" fill="#ffa7a5" stroke="#000" stroke-width="1.15"/><circle cx="608.42" cy="97.55" r="3.1" fill="#d9c2ea" stroke="#000" stroke-width="1.15"/><circle cx="542.58" cy="157.2" r="3.1" fill="#a7f598" stroke="#000" stroke-width="1.15"/><circle cx="506.39" cy="193.87" r="3.1" fill="#ff8c0f" stroke="#000" stroke-width="1.15"/><circle cx="560.31" cy="145.66" r="3.1" fill="#eb2b2c" stroke="#000" stroke-width="1.15"/><circle cx="532.82" cy="167.98" r="3.1" fill="#a7f598" stroke="#000" stroke-width="1.15"/><circle cx="479.15" cy="216.86" r="3.1" fill="#2283c6" stroke="#000" stroke-width="1.15"/><circle cx="538.38" cy="162.83" r="3.1" fill="#30b030" stroke="#000" stroke-width="1.15"/><circle cx="514.53" cy="185.72" r="3.1" fill="#ffce84" stroke="#000" stroke-width="1.15"/><circle cx="521.37" cy="179.17" r="3.1" fill="#ff8c0f" stroke="#000" stroke-width="1.15"/><circle cx="551.11" cy="150.49" r="3.1" fill="#eb2b2c" stroke="#000" stroke-width="1.15"/><circle cx="539.92" cy="162.04" r="3.1" fill="#30b030" stroke="#000" stroke-width="1.15"/><circle cx="505" cy="196.78" r="3.1" fill="#ff8c0f" stroke="#000" stroke-width="1.15"/><circle cx="540.84" cy="161.14" r="3.1" fill="#30b030" stroke="#000" stroke-width="1.15"/><circle cx="490.55" cy="201.34" r="3.1" fill="#bfdbff" stroke="#000" stroke-width="1.15"/><circle cx="563.58" cy="141.49" r="3.1" fill="#eb2b2c" stroke="#000" stroke-width="1.15"/><circle cx="565.73" cy="139.27" r="3.1" fill="#eb2b2c" stroke="#000" stroke-width="1.15"/><circle cx="556.94" cy="147" r="3.1" fill="#ffa7a5" stroke="#000" stroke-width="1.15"/><circle cx="473.29" cy="226" r="3.1" fill="#2283c6" stroke="#000" stroke-width="1.15"/><circle cx="479.84" cy="220.15" r="3.1" fill="#bfdbff" stroke="#000" stroke-width="1.15"/><circle cx="544.27" cy="160.82" r="3.1" fill="#a7f598" stroke="#000" stroke-width="1.15"/><circle cx="576.26" cy="125.98" r="3.1" fill="#eb2b2c" stroke="#000" stroke-width="1.15"/><circle cx="557.78" cy="146.43" r="3.1" fill="#eb2b2c" stroke="#000" stroke-width="1.15"/><circle cx="529.9" cy="170.57" r="3.1" fill="#a7f598" stroke="#000" stroke-width="1.15"/><circle cx="489.93" cy="209.82" r="3.1" fill="#bfdbff" stroke="#000" stroke-width="1.15"/><circle cx="615.25" cy="94.3" r="3.1" fill="#a371d0" stroke="#000" stroke-width="1.15"/><circle cx="593.17" cy="113.11" r="3.1" fill="#d9c2ea" stroke="#000" stroke-width="1.15"/><circle cx="472.17" cy="225.91" r="3.1" fill="#2283c6" stroke="#000" stroke-width="1.15"/><circle cx="513.18" cy="187.14" r="3.1" fill="#ffce84" stroke="#000" stroke-width="1.15"/><circle cx="491.87" cy="207.31" r="3.1" fill="#ff8c0f" stroke="#000" stroke-width="1.15"/><circle cx="518.99" cy="185.88" r="3.1" fill="#ff8c0f" stroke="#000" stroke-width="1.15"/><circle cx="534.28" cy="170.09" r="3.1" fill="#a7f598" stroke="#000" stroke-width="1.15"/><circle cx="579.15" cy="126.54" r="3.1" fill="#ffa7a5" stroke="#000" stroke-width="1.15"/><circle cx="577.21" cy="129.58" r="3.1" fill="#ffa7a5" stroke="#000" stroke-width="1.15"/><circle cx="551.24" cy="150.24" r="3.1" fill="#a7f598" stroke="#000" stroke-width="1.15"/><circle cx="491.53" cy="209.67" r="3.1" fill="#2283c6" stroke="#000" stroke-width="1.15"/><circle cx="524.75" cy="174.94" r="3.1" fill="#a7f598" stroke="#000" stroke-width="1.15"/><circle cx="580.29" cy="123.45" r="3.1" fill="#ffa7a5" stroke="#000" stroke-width="1.15"/><circle cx="569.36" cy="136.68" r="3.1" fill="#eb2b2c" stroke="#000" stroke-width="1.15"/><circle cx="509.12" cy="192.1" r="3.1" fill="#ff8c0f" stroke="#000" stroke-width="1.15"/><circle cx="482.63" cy="212.12" r="3.1" fill="#bfdbff" stroke="#000" stroke-width="1.15"/><circle cx="568.19" cy="137.68" r="3.1" fill="#a371d0" stroke="#000" stroke-width="1.15"/><circle cx="501.07" cy="202.15" r="3.1" fill="#ffce84" stroke="#000" stroke-width="1.15"/><circle cx="562.82" cy="144.76" r="3.1" fill="#eb2b2c" stroke="#000" stroke-width="1.15"/><circle cx="599.09" cy="110.12" r="3.1" fill="#d9c2ea" stroke="#000" stroke-width="1.15"/><circle cx="571.36" cy="134.99" r="3.1" fill="#a371d0" stroke="#000" stroke-width="1.15"/><circle cx="494.57" cy="200.63" r="3.1" fill="#ff8c0f" stroke="#000" stroke-width="1.15"/><circle cx="539.45" cy="163.23" r="3.1" fill="#eb2b2c" stroke="#000" stroke-width="1.15"/><circle cx="514.7" cy="185.4" r="3.1" fill="#ff8c0f" stroke="#000" stroke-width="1.15"/><circle cx="577.81" cy="128.52" r="3.1" fill="#a371d0" stroke="#000" stroke-width="1.15"/><circle cx="593.22" cy="116.87" r="3.1" fill="#d9c2ea" stroke="#000" stroke-width="1.15"/><circle cx="517.03" cy="182.19" r="3.1" fill="#ff8c0f" stroke="#000" stroke-width="1.15"/><circle cx="494.61" cy="206.49" r="3.1" fill="#ff8c0f" stroke="#000" stroke-width="1.15"/><circle cx="581.58" cy="125.45" r="3.1" fill="#ffa7a5" stroke="#000" stroke-width="1.15"/><circle cx="586.58" cy="122.15" r="3.1" fill="#d9c2ea" stroke="#000" stroke-width="1.15"/><circle cx="555.44" cy="150.29" r="3.1" fill="#eb2b2c" stroke="#000" stroke-width="1.15"/><circle cx="612.29" cy="94.9" r="3.1" fill="#a371d0" stroke="#000" stroke-width="1.15"/><circle cx="588.39" cy="118.93" r="3.1" fill="#d9c2ea" stroke="#000" stroke-width="1.15"/><circle cx="553.63" cy="151.21" r="3.1" fill="#eb2b2c" stroke="#000" stroke-width="1.15"/><circle cx="611.01" cy="98.24" r="3.1" fill="#d9c2ea" stroke="#000" stroke-width="1.15"/><circle cx="589.66" cy="120.08" r="3.1" fill="#d9c2ea" stroke="#000" stroke-width="1.15"/><circle cx="487.36" cy="211.22" r="3.1" fill="#2283c6" stroke="#000" stroke-width="1.15"/><circle cx="622.15" cy="87.76" r="3.1" fill="#a371d0" stroke="#000" stroke-width="1.15"/><circle cx="501.28" cy="199.88" r="3.1" fill="#ffce84" stroke="#000" stroke-width="1.15"/><circle cx="475.61" cy="224.67" r="3.1" fill="#2283c6" stroke="#000" stroke-width="1.15"/><circle cx="474.09" cy="220.68" r="3.1" fill="#2283c6" stroke="#000" stroke-width="1.15"/><circle cx="520.82" cy="178.84" r="3.1" fill="#ffce84" stroke="#000" stroke-width="1.15"/><circle cx="559.23" cy="143.16" r="3.1" fill="#eb2b2c" stroke="#000" stroke-width="1.15"/><circle cx="493.73" cy="205.69" r="3.1" fill="#bfdbff" stroke="#000" stroke-width="1.15"/><circle cx="593.57" cy="113.38" r="3.1" fill="#d9c2ea" stroke="#000" stroke-width="1.15"/><circle cx="539.4" cy="163.25" r="3.1" fill="#eb2b2c" stroke="#000" stroke-width="1.15"/><circle cx="544.31" cy="158.52" r="3.1" fill="#eb2b2c" stroke="#000" stroke-width="1.15"/><circle cx="578.13" cy="124.4" r="3.1" fill="#eb2b2c" stroke="#000" stroke-width="1.15"/><circle cx="522.67" cy="177.95" r="3.1" fill="#ffce84" stroke="#000" stroke-width="1.15"/><circle cx="601.63" cy="105" r="3.1" fill="#d9c2ea" stroke="#000" stroke-width="1.15"/><circle cx="589.14" cy="118.16" r="3.1" fill="#d9c2ea" stroke="#000" stroke-width="1.15"/><circle cx="553.03" cy="149.65" r="3.1" fill="#a7f598" stroke="#000" stroke-width="1.15"/><circle cx="595.01" cy="109.08" r="3.1" fill="#a371d0" stroke="#000" stroke-width="1.15"/><circle cx="477.75" cy="219.45" r="3.1" fill="#2283c6" stroke="#000" stroke-width="1.15"/><circle cx="540.6" cy="162.47" r="3.1" fill="#eb2b2c" stroke="#000" stroke-width="1.15"/><circle cx="588.03" cy="116.21" r="3.1" fill="#d9c2ea" stroke="#000" stroke-width="1.15"/><circle cx="591.98" cy="110.99" r="3.1" fill="#a371d0" stroke="#000" stroke-width="1.15"/><circle cx="488.47" cy="210.77" r="3.1" fill="#ff8c0f" stroke="#000" stroke-width="1.15"/><circle cx="590.11" cy="114.29" r="3.1" fill="#d9c2ea" stroke="#000" stroke-width="1.15"/><circle cx="505.86" cy="194.14" r="3.1" fill="#ffce84" stroke="#000" stroke-width="1.15"/><circle cx="570.45" cy="133.25" r="3.1" fill="#a371d0" stroke="#000" stroke-width="1.15"/><circle cx="578.83" cy="128.88" r="3.1" fill="#ffa7a5" stroke="#000" stroke-width="1.15"/><circle cx="512.76" cy="189.21" r="3.1" fill="#ff8c0f" stroke="#000" stroke-width="1.15"/><circle cx="525.63" cy="175.08" r="3.1" fill="#30b030" stroke="#000" stroke-width="1.15"/><circle cx="496.74" cy="202.86" r="3.1" fill="#2283c6" stroke="#000" stroke-width="1.15"/><circle cx="507.01" cy="192.25" r="3.1" fill="#ffce84" stroke="#000" stroke-width="1.15"/><circle cx="559.67" cy="145.99" r="3.1" fill="#eb2b2c" stroke="#000" stroke-width="1.15"/><circle cx="578.33" cy="130.65" r="3.1" fill="#eb2b2c" stroke="#000" stroke-width="1.15"/><circle cx="583.72" cy="120.1" r="3.1" fill="#ffa7a5" stroke="#000" stroke-width="1.15"/><circle cx="550.32" cy="154.32" r="3.1" fill="#eb2b2c" stroke="#000" stroke-width="1.15"/><circle cx="587.79" cy="115.69" r="3.1" fill="#d9c2ea" stroke="#000" stroke-width="1.15"/><circle cx="612.1" cy="101.27" r="3.1" fill="#a371d0" stroke="#000" stroke-width="1.15"/><circle cx="517.39" cy="184.75" r="3.1" fill="#30b030" stroke="#000" stroke-width="1.15"/><circle cx="474.27" cy="222.98" r="3.1" fill="#2283c6" stroke="#000" stroke-width="1.15"/><circle cx="495.47" cy="204.54" r="3.1" fill="#ff8c0f" stroke="#000" stroke-width="1.15"/><circle cx="489.59" cy="213.47" r="3.1" fill="#2283c6" stroke="#000" stroke-width="1.15"/><circle cx="590.32" cy="115.86" r="3.1" fill="#a371d0" stroke="#000" stroke-width="1.15"/><circle cx="524.78" cy="177.97" r="3.1" fill="#ffce84" stroke="#000" stroke-width="1.15"/><circle cx="535.86" cy="167.27" r="3.1" fill="#30b030" stroke="#000" stroke-width="1.15"/><circle cx="578.53" cy="127.25" r="3.1" fill="#a371d0" stroke="#000" stroke-width="1.15"/><circle cx="528.24" cy="172.39" r="3.1" fill="#30b030" stroke="#000" stroke-width="1.15"/><circle cx="518.85" cy="182.84" r="3.1" fill="#30b030" stroke="#000" stroke-width="1.15"/><circle cx="506.13" cy="192.89" r="3.1" fill="#ffce84" stroke="#000" stroke-width="1.15"/><circle cx="517.99" cy="183.31" r="3.1" fill="#30b030" stroke="#000" stroke-width="1.15"/><circle cx="576.41" cy="126.56" r="3.1" fill="#eb2b2c" stroke="#000" stroke-width="1.15"/><circle cx="603.25" cy="103.79" r="3.1" fill="#a371d0" stroke="#000" stroke-width="1.15"/><circle cx="496.68" cy="202.91" r="3.1" fill="#bfdbff" stroke="#000" stroke-width="1.15"/><circle cx="536.28" cy="168.66" r="3.1" fill="#30b030" stroke="#000" stroke-width="1.15"/><circle cx="586.73" cy="122.18" r="3.1" fill="#ffa7a5" stroke="#000" stroke-width="1.15"/><circle cx="584.99" cy="119.53" r="3.1" fill="#ffa7a5" stroke="#000" stroke-width="1.15"/><circle cx="493.6" cy="206.06" r="3.1" fill="#ff8c0f" stroke="#000" stroke-width="1.15"/><circle cx="548.46" cy="157.74" r="3.1" fill="#a7f598" stroke="#000" stroke-width="1.15"/><circle cx="573.8" cy="132.27" r="3.1" fill="#ffa7a5" stroke="#000" stroke-width="1.15"/><circle cx="599.18" cy="108.65" r="3.1" fill="#a371d0" stroke="#000" stroke-width="1.15"/><circle cx="516.54" cy="185.58" r="3.1" fill="#ff8c0f" stroke="#000" stroke-width="1.15"/><circle cx="547.78" cy="156.35" r="3.1" fill="#30b030" stroke="#000" stroke-width="1.15"/><circle cx="618.14" cy="90.33" r="3.1" fill="#a371d0" stroke="#000" stroke-width="1.15"/><circle cx="498.38" cy="201.74" r="3.1" fill="#2283c6" stroke="#000" stroke-width="1.15"/><circle cx="577.32" cy="126.63" r="3.1" fill="#a371d0" stroke="#000" stroke-width="1.15"/><circle cx="490.6" cy="208.75" r="3.1" fill="#2283c6" stroke="#000" stroke-width="1.15"/><circle cx="593.26" cy="114.77" r="3.1" fill="#a371d0" stroke="#000" stroke-width="1.15"/><circle cx="484.79" cy="218.1" r="3.1" fill="#bfdbff" stroke="#000" stroke-width="1.15"/><circle cx="520.16" cy="178.96" r="3.1" fill="#ff8c0f" stroke="#000" stroke-width="1.15"/><circle cx="591.18" cy="116.79" r="3.1" fill="#d9c2ea" stroke="#000" stroke-width="1.15"/><circle cx="628.56" cy="82.45" r="3.1" fill="#d9c2ea" stroke="#000" stroke-width="1.15"/><circle cx="602.77" cy="105.78" r="3.1" fill="#a371d0" stroke="#000" stroke-width="1.15"/><circle cx="549.11" cy="149.26" r="3.1" fill="#eb2b2c" stroke="#000" stroke-width="1.15"/><circle cx="493.65" cy="206.9" r="3.1" fill="#2283c6" stroke="#000" stroke-width="1.15"/><circle cx="481.7" cy="218.17" r="3.1" fill="#bfdbff" stroke="#000" stroke-width="1.15"/><circle cx="529.61" cy="171.6" r="3.1" fill="#30b030" stroke="#000" stroke-width="1.15"/><circle cx="566.41" cy="137.14" r="3.1" fill="#ffa7a5" stroke="#000" stroke-width="1.15"/><circle cx="513.39" cy="187.6" r="3.1" fill="#ffce84" stroke="#000" stroke-width="1.15"/><circle cx="541.64" cy="160.7" r="3.1" fill="#30b030" stroke="#000" stroke-width="1.15"/><circle cx="484.1" cy="214.13" r="3.1" fill="#bfdbff" stroke="#000" stroke-width="1.15"/><circle cx="515.23" cy="186.65" r="3.1" fill="#ffce84" stroke="#000" stroke-width="1.15"/><circle cx="564.12" cy="142.26" r="3.1" fill="#ffa7a5" stroke="#000" stroke-width="1.15"/><circle cx="571.32" cy="133.48" r="3.1" fill="#eb2b2c" stroke="#000" stroke-width="1.15"/><circle cx="545.83" cy="156.73" r="3.1" fill="#a7f598" stroke="#000" stroke-width="1.15"/><circle cx="490.71" cy="212.11" r="3.1" fill="#ff8c0f" stroke="#000" stroke-width="1.15"/><circle cx="547.22" cy="152.88" r="3.1" fill="#a7f598" stroke="#000" stroke-width="1.15"/><circle cx="541.26" cy="159.75" r="3.1" fill="#a7f598" stroke="#000" stroke-width="1.15"/><circle cx="541.25" cy="164.31" r="3.1" fill="#30b030" stroke="#000" stroke-width="1.15"/><circle cx="509.96" cy="190.65" r="3.1" fill="#ffce84" stroke="#000" stroke-width="1.15"/><circle cx="572.46" cy="133.49" r="3.1" fill="#ffa7a5" stroke="#000" stroke-width="1.15"/><circle cx="551.96" cy="150.57" r="3.1" fill="#eb2b2c" stroke="#000" stroke-width="1.15"/><circle cx="564.51" cy="139.47" r="3.1" fill="#eb2b2c" stroke="#000" stroke-width="1.15"/><circle cx="522.56" cy="179.13" r="3.1" fill="#ff8c0f" stroke="#000" stroke-width="1.15"/><circle cx="527" cy="174.67" r="3.1" fill="#a7f598" stroke="#000" stroke-width="1.15"/><circle cx="573.39" cy="135.12" r="3.1" fill="#ffa7a5" stroke="#000" stroke-width="1.15"/><circle cx="536.41" cy="164.58" r="3.1" fill="#a7f598" stroke="#000" stroke-width="1.15"/><circle cx="568.38" cy="134.19" r="3.1" fill="#a371d0" stroke="#000" stroke-width="1.15"/><circle cx="488.25" cy="211.36" r="3.1" fill="#bfdbff" stroke="#000" stroke-width="1.15"/><circle cx="490.02" cy="207.92" r="3.1" fill="#bfdbff" stroke="#000" stroke-width="1.15"/><circle cx="572.43" cy="132.54" r="3.1" fill="#eb2b2c" stroke="#000" stroke-width="1.15"/><circle cx="528.53" cy="171.49" r="3.1" fill="#30b030" stroke="#000" stroke-width="1.15"/><circle cx="561.68" cy="143.31" r="3.1" fill="#eb2b2c" stroke="#000" stroke-width="1.15"/><circle cx="494.24" cy="206.18" r="3.1" fill="#bfdbff" stroke="#000" stroke-width="1.15"/><circle cx="521.66" cy="182.01" r="3.1" fill="#30b030" stroke="#000" stroke-width="1.15"/><circle cx="567.61" cy="138.09" r="3.1" fill="#eb2b2c" stroke="#000" stroke-width="1.15"/><circle cx="479.6" cy="215.71" r="3.1" fill="#bfdbff" stroke="#000" stroke-width="1.15"/><circle cx="509.65" cy="189.85" r="3.1" fill="#ffce84" stroke="#000" stroke-width="1.15"/><circle cx="494.28" cy="205.53" r="3.1" fill="#ff8c0f" stroke="#000" stroke-width="1.15"/><circle cx="507.51" cy="189.61" r="3.1" fill="#ff8c0f" stroke="#000" stroke-width="1.15"/><circle cx="480.79" cy="217.4" r="3.1" fill="#2283c6" stroke="#000" stroke-width="1.15"/><circle cx="577.81" cy="127.08" r="3.1" fill="#ffa7a5" stroke="#000" stroke-width="1.15"/><circle cx="585.26" cy="118.25" r="3.1" fill="#ffa7a5" stroke="#000" stroke-width="1.15"/><circle cx="512.23" cy="187.36" r="3.1" fill="#ffce84" stroke="#000" stroke-width="1.15"/><circle cx="502.69" cy="194.87" r="3.1" fill="#ffce84" stroke="#000" stroke-width="1.15"/><circle cx="490.44" cy="208.51" r="3.1" fill="#ff8c0f" stroke="#000" stroke-width="1.15"/><circle cx="561.73" cy="140.6" r="3.1" fill="#ffa7a5" stroke="#000" stroke-width="1.15"/><circle cx="524.97" cy="177.58" r="3.1" fill="#30b030" stroke="#000" stroke-width="1.15"/><circle cx="560.32" cy="141.98" r="3.1" fill="#eb2b2c" stroke="#000" stroke-width="1.15"/><circle cx="540.67" cy="160.56" r="3.1" fill="#eb2b2c" stroke="#000" stroke-width="1.15"/><circle cx="544.99" cy="157.39" r="3.1" fill="#a7f598" stroke="#000" stroke-width="1.15"/><circle cx="564.82" cy="139.13" r="3.1" fill="#eb2b2c" stroke="#000" stroke-width="1.15"/><circle cx="573.31" cy="130.63" r="3.1" fill="#a371d0" stroke="#000" stroke-width="1.15"/><circle cx="545.99" cy="155.17" r="3.1" fill="#eb2b2c" stroke="#000" stroke-width="1.15"/><circle cx="609.71" cy="95.38" r="3.1" fill="#d9c2ea" stroke="#000" stroke-width="1.15"/><circle cx="612.4" cy="93.36" r="3.1" fill="#d9c2ea" stroke="#000" stroke-width="1.15"/><circle cx="520.22" cy="183.07" r="3.1" fill="#ffce84" stroke="#000" stroke-width="1.15"/><circle cx="483.19" cy="215.41" r="3.1" fill="#bfdbff" stroke="#000" stroke-width="1.15"/><circle cx="627.01" cy="81.89" r="3.1" fill="#d9c2ea" stroke="#000" stroke-width="1.15"/><circle cx="594.67" cy="109.85" r="3.1" fill="#d9c2ea" stroke="#000" stroke-width="1.15"/><circle cx="575.19" cy="132.92" r="3.1" fill="#eb2b2c" stroke="#000" stroke-width="1.15"/><circle cx="619.78" cy="89.5" r="3.1" fill="#d9c2ea" stroke="#000" stroke-width="1.15"/><circle cx="516.96" cy="183.9" r="3.1" fill="#30b030" stroke="#000" stroke-width="1.15"/><circle cx="474.11" cy="220.59" r="3.1" fill="#2283c6" stroke="#000" stroke-width="1.15"/><circle cx="626.15" cy="81.06" r="3.1" fill="#d9c2ea" stroke="#000" stroke-width="1.15"/><circle cx="579.43" cy="126.23" r="3.1" fill="#a371d0" stroke="#000" stroke-width="1.15"/><circle cx="573.58" cy="131.55" r="3.1" fill="#eb2b2c" stroke="#000" stroke-width="1.15"/><circle cx="540.28" cy="162.27" r="3.1" fill="#eb2b2c" stroke="#000" stroke-width="1.15"/><circle cx="493.01" cy="204.06" r="3.1" fill="#bfdbff" stroke="#000" stroke-width="1.15"/><circle cx="611.39" cy="98.7" r="3.1" fill="#a371d0" stroke="#000" stroke-width="1.15"/><circle cx="498.08" cy="200.64" r="3.1" fill="#2283c6" stroke="#000" stroke-width="1.15"/><circle cx="507.04" cy="194" r="3.1" fill="#ff8c0f" stroke="#000" stroke-width="1.15"/><circle cx="485.91" cy="213.89" r="3.1" fill="#bfdbff" stroke="#000" stroke-width="1.15"/><circle cx="634.83" cy="76.01" r="3.1" fill="#d9c2ea" stroke="#000" stroke-width="1.15"/><circle cx="519.59" cy="183.28" r="3.1" fill="#ff8c0f" stroke="#000" stroke-width="1.15"/><circle cx="612.32" cy="95.41" r="3.1" fill="#a371d0" stroke="#000" stroke-width="1.15"/><circle cx="488.92" cy="208.22" r="3.1" fill="#2283c6" stroke="#000" stroke-width="1.15"/><circle cx="486.95" cy="210.69" r="3.1" fill="#bfdbff" stroke="#000" stroke-width="1.15"/><circle cx="519.05" cy="184.26" r="3.1" fill="#ff8c0f" stroke="#000" stroke-width="1.15"/><circle cx="568.5" cy="136.34" r="3.1" fill="#eb2b2c" stroke="#000" stroke-width="1.15"/><circle cx="601.48" cy="106.69" r="3.1" fill="#d9c2ea" stroke="#000" stroke-width="1.15"/><circle cx="530.94" cy="168.12" r="3.1" fill="#ffce84" stroke="#000" stroke-width="1.15"/><circle cx="542.47" cy="161.75" r="3.1" fill="#30b030" stroke="#000" stroke-width="1.15"/><circle cx="586.22" cy="123.42" r="3.1" fill="#ffa7a5" stroke="#000" stroke-width="1.15"/><circle cx="485.58" cy="213.14" r="3.1" fill="#bfdbff" stroke="#000" stroke-width="1.15"/><circle cx="526.69" cy="175.22" r="3.1" fill="#ffce84" stroke="#000" stroke-width="1.15"/><circle cx="558.63" cy="146.66" r="3.1" fill="#eb2b2c" stroke="#000" stroke-width="1.15"/><circle cx="565.6" cy="136.89" r="3.1" fill="#ffa7a5" stroke="#000" stroke-width="1.15"/><circle cx="529.5" cy="173.69" r="3.1" fill="#ffce84" stroke="#000" stroke-width="1.15"/><circle cx="527.77" cy="175.99" r="3.1" fill="#30b030" stroke="#000" stroke-width="1.15"/><circle cx="591.04" cy="115" r="3.1" fill="#d9c2ea" stroke="#000" stroke-width="1.15"/><circle cx="577.76" cy="128.34" r="3.1" fill="#eb2b2c" stroke="#000" stroke-width="1.15"/><circle cx="524.2" cy="176.91" r="3.1" fill="#30b030" stroke="#000" stroke-width="1.15"/><circle cx="528.48" cy="172.07" r="3.1" fill="#a7f598" stroke="#000" stroke-width="1.15"/><circle cx="576.97" cy="126.84" r="3.1" fill="#ffa7a5" stroke="#000" stroke-width="1.15"/><circle cx="518.63" cy="182.96" r="3.1" fill="#ff8c0f" stroke="#000" stroke-width="1.15"/><circle cx="497.37" cy="200.27" r="3.1" fill="#ff8c0f" stroke="#000" stroke-width="1.15"/><circle cx="477.22" cy="218.11" r="3.1" fill="#2283c6" stroke="#000" stroke-width="1.15"/><circle cx="508.01" cy="191.59" r="3.1" fill="#ffce84" stroke="#000" stroke-width="1.15"/><circle cx="490.33" cy="207.05" r="3.1" fill="#bfdbff" stroke="#000" stroke-width="1.15"/><circle cx="609.51" cy="101.34" r="3.1" fill="#d9c2ea" stroke="#000" stroke-width="1.15"/><circle cx="485.32" cy="213.92" r="3.1" fill="#2283c6" stroke="#000" stroke-width="1.15"/><circle cx="536.28" cy="165.27" r="3.1" fill="#30b030" stroke="#000" stroke-width="1.15"/><circle cx="544.37" cy="157.52" r="3.1" fill="#eb2b2c" stroke="#000" stroke-width="1.15"/><circle cx="520.37" cy="179" r="3.1" fill="#30b030" stroke="#000" stroke-width="1.15"/><circle cx="578.1" cy="128.68" r="3.1" fill="#ffa7a5" stroke="#000" stroke-width="1.15"/><circle cx="498.03" cy="200.73" r="3.1" fill="#2283c6" stroke="#000" stroke-width="1.15"/><circle cx="560.42" cy="144.17" r="3.1" fill="#eb2b2c" stroke="#000" stroke-width="1.15"/><circle cx="564.79" cy="139.29" r="3.1" fill="#a371d0" stroke="#000" stroke-width="1.15"/><circle cx="494.39" cy="205.46" r="3.1" fill="#2283c6" stroke="#000" stroke-width="1.15"/><circle cx="528.66" cy="176.07" r="3.1" fill="#ffce84" stroke="#000" stroke-width="1.15"/><circle cx="602.18" cy="104.63" r="3.1" fill="#d9c2ea" stroke="#000" stroke-width="1.15"/><circle cx="580.44" cy="123.81" r="3.1" fill="#a371d0" stroke="#000" stroke-width="1.15"/><circle cx="478.96" cy="220.8" r="3.1" fill="#bfdbff" stroke="#000" stroke-width="1.15"/><circle cx="515.97" cy="183.15" r="3.1" fill="#ff8c0f" stroke="#000" stroke-width="1.15"/><circle cx="506.1" cy="193.06" r="3.1" fill="#ff8c0f" stroke="#000" stroke-width="1.15"/><circle cx="585.55" cy="121.48" r="3.1" fill="#a371d0" stroke="#000" stroke-width="1.15"/><circle cx="617.58" cy="89.18" r="3.1" fill="#d9c2ea" stroke="#000" stroke-width="1.15"/><circle cx="537.17" cy="163.27" r="3.1" fill="#30b030" stroke="#000" stroke-width="1.15"/><circle cx="514.29" cy="186.25" r="3.1" fill="#ff8c0f" stroke="#000" stroke-width="1.15"/><circle cx="525.04" cy="178.55" r="3.1" fill="#ffce84" stroke="#000" stroke-width="1.15"/><circle cx="562.59" cy="141.62" r="3.1" fill="#ffa7a5" stroke="#000" stroke-width="1.15"/><circle cx="558.44" cy="146.02" r="3.1" fill="#eb2b2c" stroke="#000" stroke-width="1.15"/><circle cx="474.3" cy="225.41" r="3.1" fill="#2283c6" stroke="#000" stroke-width="1.15"/><circle cx="532.05" cy="173.24" r="3.1" fill="#a7f598" stroke="#000" stroke-width="1.15"/><circle cx="604.68" cy="105.58" r="3.1" fill="#d9c2ea" stroke="#000" stroke-width="1.15"/><circle cx="569.91" cy="137.38" r="3.1" fill="#ffa7a5" stroke="#000" stroke-width="1.15"/><circle cx="519.95" cy="181.8" r="3.1" fill="#ffce84" stroke="#000" stroke-width="1.15"/><circle cx="515.05" cy="185.33" r="3.1" fill="#ff8c0f" stroke="#000" stroke-width="1.15"/><circle cx="486.2" cy="212.52" r="3.1" fill="#2283c6" stroke="#000" stroke-width="1.15"/><circle cx="603.11" cy="106.66" r="3.1" fill="#a371d0" stroke="#000" stroke-width="1.15"/><circle cx="622.24" cy="84.25" r="3.1" fill="#d9c2ea" stroke="#000" stroke-width="1.15"/><circle cx="605.03" cy="105.86" r="3.1" fill="#a371d0" stroke="#000" stroke-width="1.15"/><circle cx="550.97" cy="152.88" r="3.1" fill="#a7f598" stroke="#000" stroke-width="1.15"/><circle cx="547.69" cy="154.97" r="3.1" fill="#a7f598" stroke="#000" stroke-width="1.15"/><circle cx="558.96" cy="145.6" r="3.1" fill="#ffa7a5" stroke="#000" stroke-width="1.15"/><circle cx="531.97" cy="169.74" r="3.1" fill="#30b030" stroke="#000" stroke-width="1.15"/><circle cx="544.29" cy="158.66" r="3.1" fill="#30b030" stroke="#000" stroke-width="1.15"/><circle cx="542.67" cy="157.13" r="3.1" fill="#eb2b2c" stroke="#000" stroke-width="1.15"/><circle cx="511.69" cy="190.2" r="3.1" fill="#ffce84" stroke="#000" stroke-width="1.15"/><circle cx="530.31" cy="172.21" r="3.1" fill="#a7f598" stroke="#000" stroke-width="1.15"/><circle cx="599.04" cy="106.87" r="3.1" fill="#a371d0" stroke="#000" stroke-width="1.15"/><circle cx="493.27" cy="209.01" r="3.1" fill="#2283c6" stroke="#000" stroke-width="1.15"/><circle cx="613.98" cy="92.22" r="3.1" fill="#d9c2ea" stroke="#000" stroke-width="1.15"/><circle cx="486.35" cy="212.26" r="3.1" fill="#2283c6" stroke="#000" stroke-width="1.15"/><circle cx="510.34" cy="191.2" r="3.1" fill="#ffce84" stroke="#000" stroke-width="1.15"/><circle cx="558.25" cy="148.73" r="3.1" fill="#ffa7a5" stroke="#000" stroke-width="1.15"/><circle cx="607.3" cy="99.27" r="3.1" fill="#a371d0" stroke="#000" stroke-width="1.15"/><circle cx="505.54" cy="194.03" r="3.1" fill="#ffce84" stroke="#000" stroke-width="1.15"/><circle cx="493.06" cy="207.5" r="3.1" fill="#2283c6" stroke="#000" stroke-width="1.15"/><circle cx="635.07" cy="71.06" r="3.1" fill="#d9c2ea" stroke="#000" stroke-width="1.15"/><circle cx="487.5" cy="211.49" r="3.1" fill="#bfdbff" stroke="#000" stroke-width="1.15"/><circle cx="544.81" cy="160.99" r="3.1" fill="#a7f598" stroke="#000" stroke-width="1.15"/><circle cx="545.81" cy="157.99" r="3.1" fill="#a7f598" stroke="#000" stroke-width="1.15"/><circle cx="577.66" cy="127.5" r="3.1" fill="#eb2b2c" stroke="#000" stroke-width="1.15"/><circle cx="524.7" cy="176.79" r="3.1" fill="#30b030" stroke="#000" stroke-width="1.15"/><circle cx="478.1" cy="216.23" r="3.1" fill="#2283c6" stroke="#000" stroke-width="1.15"/><circle cx="503.62" cy="200.12" r="3.1" fill="#ffce84" stroke="#000" stroke-width="1.15"/><circle cx="574.07" cy="132.53" r="3.1" fill="#ffa7a5" stroke="#000" stroke-width="1.15"/><circle cx="619.14" cy="88.67" r="3.1" fill="#d9c2ea" stroke="#000" stroke-width="1.15"/><circle cx="491.28" cy="203.31" r="3.1" fill="#ff8c0f" stroke="#000" stroke-width="1.15"/><circle cx="514.21" cy="186.02" r="3.1" fill="#ff8c0f" stroke="#000" stroke-width="1.15"/><circle cx="623.49" cy="88.17" r="3.1" fill="#a371d0" stroke="#000" stroke-width="1.15"/><circle cx="615.18" cy="94.48" r="3.1" fill="#a371d0" stroke="#000" stroke-width="1.15"/><circle cx="592.7" cy="113.61" r="3.1" fill="#a371d0" stroke="#000" stroke-width="1.15"/><circle cx="549.59" cy="152.65" r="3.1" fill="#a7f598" stroke="#000" stroke-width="1.15"/><circle cx="588.72" cy="117.32" r="3.1" fill="#d9c2ea" stroke="#000" stroke-width="1.15"/><circle cx="474.07" cy="221.84" r="3.1" fill="#2283c6" stroke="#000" stroke-width="1.15"/><circle cx="494.97" cy="203.98" r="3.1" fill="#2283c6" stroke="#000" stroke-width="1.15"/><circle cx="488.19" cy="210.85" r="3.1" fill="#2283c6" stroke="#000" stroke-width="1.15"/><circle cx="565.01" cy="141.28" r="3.1" fill="#a371d0" stroke="#000" stroke-width="1.15"/><circle cx="521.28" cy="179.61" r="3.1" fill="#30b030" stroke="#000" stroke-width="1.15"/><circle cx="494.2" cy="200.42" r="3.1" fill="#ff8c0f" stroke="#000" stroke-width="1.15"/><circle cx="523.34" cy="175.25" r="3.1" fill="#ffce84" stroke="#000" stroke-width="1.15"/><circle cx="584.77" cy="122.08" r="3.1" fill="#a371d0" stroke="#000" stroke-width="1.15"/><circle cx="543.82" cy="162.68" r="3.1" fill="#a7f598" stroke="#000" stroke-width="1.15"/><circle cx="614.25" cy="91.84" r="3.1" fill="#a371d0" stroke="#000" stroke-width="1.15"/><circle cx="486.08" cy="211.77" r="3.1" fill="#bfdbff" stroke="#000" stroke-width="1.15"/><circle cx="472.29" cy="225.1" r="3.1" fill="#2283c6" stroke="#000" stroke-width="1.15"/><circle cx="577.04" cy="127.55" r="3.1" fill="#a371d0" stroke="#000" stroke-width="1.15"/><circle cx="532.88" cy="168.66" r="3.1" fill="#30b030" stroke="#000" stroke-width="1.15"/><circle cx="596.44" cy="109.08" r="3.1" fill="#d9c2ea" stroke="#000" stroke-width="1.15"/><circle cx="514.64" cy="185.93" r="3.1" fill="#ffce84" stroke="#000" stroke-width="1.15"/><circle cx="477.21" cy="222.38" r="3.1" fill="#2283c6" stroke="#000" stroke-width="1.15"/><circle cx="629.56" cy="74.78" r="3.1" fill="#d9c2ea" stroke="#000" stroke-width="1.15"/><circle cx="573.09" cy="130.07" r="3.1" fill="#a371d0" stroke="#000" stroke-width="1.15"/><circle cx="482.58" cy="216.76" r="3.1" fill="#2283c6" stroke="#000" stroke-width="1.15"/><circle cx="502.43" cy="197.12" r="3.1" fill="#ff8c0f" stroke="#000" stroke-width="1.15"/><circle cx="501.83" cy="198.93" r="3.1" fill="#bfdbff" stroke="#000" stroke-width="1.15"/><circle cx="541.04" cy="161.36" r="3.1" fill="#30b030" stroke="#000" stroke-width="1.15"/><circle cx="544.05" cy="159.34" r="3.1" fill="#eb2b2c" stroke="#000" stroke-width="1.15"/><circle cx="522.23" cy="178.33" r="3.1" fill="#ffce84" stroke="#000" stroke-width="1.15"/><circle cx="502.11" cy="194.62" r="3.1" fill="#ffce84" stroke="#000" stroke-width="1.15"/><circle cx="534.17" cy="169.49" r="3.1" fill="#a7f598" stroke="#000" stroke-width="1.15"/><circle cx="607.57" cy="97.71" r="3.1" fill="#a371d0" stroke="#000" stroke-width="1.15"/><circle cx="514.05" cy="184.51" r="3.1" fill="#ffce84" stroke="#000" stroke-width="1.15"/><circle cx="589.59" cy="119.39" r="3.1" fill="#d9c2ea" stroke="#000" stroke-width="1.15"/><circle cx="545.15" cy="157.33" r="3.1" fill="#eb2b2c" stroke="#000" stroke-width="1.15"/><circle cx="602.52" cy="104.89" r="3.1" fill="#a371d0" stroke="#000" stroke-width="1.15"/><circle cx="515.12" cy="186.15" r="3.1" fill="#ff8c0f" stroke="#000" stroke-width="1.15"/><circle cx="493.96" cy="207.79" r="3.1" fill="#2283c6" stroke="#000" stroke-width="1.15"/><circle cx="492.33" cy="205.19" r="3.1" fill="#ff8c0f" stroke="#000" stroke-width="1.15"/><circle cx="506.84" cy="195.11" r="3.1" fill="#ff8c0f" stroke="#000" stroke-width="1.15"/><circle cx="490.28" cy="206.76" r="3.1" fill="#ff8c0f" stroke="#000" stroke-width="1.15"/><circle cx="501.76" cy="201.01" r="3.1" fill="#ff8c0f" stroke="#000" stroke-width="1.15"/><circle cx="525.84" cy="175.85" r="3.1" fill="#a7f598" stroke="#000" stroke-width="1.15"/><circle cx="529.06" cy="175.07" r="3.1" fill="#30b030" stroke="#000" stroke-width="1.15"/><circle cx="518.01" cy="183.43" r="3.1" fill="#30b030" stroke="#000" stroke-width="1.15"/><circle cx="519.5" cy="179.95" r="3.1" fill="#ffce84" stroke="#000" stroke-width="1.15"/><circle cx="545.87" cy="155.95" r="3.1" fill="#30b030" stroke="#000" stroke-width="1.15"/><circle cx="571.46" cy="134.26" r="3.1" fill="#ffa7a5" stroke="#000" stroke-width="1.15"/><circle cx="575.42" cy="128.44" r="3.1" fill="#ffa7a5" stroke="#000" stroke-width="1.15"/><circle cx="612.71" cy="95.48" r="3.1" fill="#d9c2ea" stroke="#000" stroke-width="1.15"/><circle cx="561.89" cy="143.37" r="3.1" fill="#ffa7a5" stroke="#000" stroke-width="1.15"/><circle cx="542.09" cy="162.49" r="3.1" fill="#30b030" stroke="#000" stroke-width="1.15"/><circle cx="542.82" cy="158.75" r="3.1" fill="#a7f598" stroke="#000" stroke-width="1.15"/><circle cx="503.61" cy="198.1" r="3.1" fill="#ffce84" stroke="#000" stroke-width="1.15"/><circle cx="616.81" cy="91.95" r="3.1" fill="#a371d0" stroke="#000" stroke-width="1.15"/><circle cx="629.5" cy="80.04" r="3.1" fill="#d9c2ea" stroke="#000" stroke-width="1.15"/><circle cx="545.41" cy="158.78" r="3.1" fill="#eb2b2c" stroke="#000" stroke-width="1.15"/><circle cx="511.85" cy="189.9" r="3.1" fill="#ffce84" stroke="#000" stroke-width="1.15"/><circle cx="558.44" cy="145.01" r="3.1" fill="#ffa7a5" stroke="#000" stroke-width="1.15"/><circle cx="609.95" cy="94.8" r="3.1" fill="#a371d0" stroke="#000" stroke-width="1.15"/><circle cx="473.7" cy="219.7" r="3.1" fill="#2283c6" stroke="#000" stroke-width="1.15"/><circle cx="584.63" cy="123.12" r="3.1" fill="#a371d0" stroke="#000" stroke-width="1.15"/><circle cx="535.63" cy="166.2" r="3.1" fill="#30b030" stroke="#000" stroke-width="1.15"/><circle cx="519.02" cy="179.27" r="3.1" fill="#ffce84" stroke="#000" stroke-width="1.15"/><circle cx="569.44" cy="138.4" r="3.1" fill="#eb2b2c" stroke="#000" stroke-width="1.15"/><circle cx="603.28" cy="104.17" r="3.1" fill="#d9c2ea" stroke="#000" stroke-width="1.15"/><circle cx="618.95" cy="88.56" r="3.1" fill="#a371d0" stroke="#000" stroke-width="1.15"/><circle cx="612.7" cy="94.03" r="3.1" fill="#d9c2ea" stroke="#000" stroke-width="1.15"/><circle cx="506.05" cy="196.27" r="3.1" fill="#ff8c0f" stroke="#000" stroke-width="1.15"/><circle cx="615.59" cy="93.51" r="3.1" fill="#a371d0" stroke="#000" stroke-width="1.15"/><circle cx="491.66" cy="207.08" r="3.1" fill="#ff8c0f" stroke="#000" stroke-width="1.15"/><circle cx="563.55" cy="141.51" r="3.1" fill="#eb2b2c" stroke="#000" stroke-width="1.15"/><circle cx="522.39" cy="181.27" r="3.1" fill="#30b030" stroke="#000" stroke-width="1.15"/><circle cx="525.49" cy="173.21" r="3.1" fill="#ffce84" stroke="#000" stroke-width="1.15"/><circle cx="555.35" cy="148.77" r="3.1" fill="#eb2b2c" stroke="#000" stroke-width="1.15"/><circle cx="475.74" cy="219.11" r="3.1" fill="#2283c6" stroke="#000" stroke-width="1.15"/><circle cx="533.11" cy="167.96" r="3.1" fill="#a7f598" stroke="#000" stroke-width="1.15"/><circle cx="497.74" cy="201.35" r="3.1" fill="#ff8c0f" stroke="#000" stroke-width="1.15"/><circle cx="587.56" cy="117.09" r="3.1" fill="#d9c2ea" stroke="#000" stroke-width="1.15"/><circle cx="617.09" cy="93.72" r="3.1" fill="#a371d0" stroke="#000" stroke-width="1.15"/><circle cx="560.5" cy="145.6" r="3.1" fill="#eb2b2c" stroke="#000" stroke-width="1.15"/><circle cx="546.7" cy="154.5" r="3.1" fill="#eb2b2c" stroke="#000" stroke-width="1.15"/><circle cx="577.62" cy="129" r="3.1" fill="#eb2b2c" stroke="#000" stroke-width="1.15"/><circle cx="496.46" cy="203.17" r="3.1" fill="#ff8c0f" stroke="#000" stroke-width="1.15"/><circle cx="522.15" cy="178.37" r="3.1" fill="#ffce84" stroke="#000" stroke-width="1.15"/><circle cx="588.13" cy="117.18" r="3.1" fill="#a371d0" stroke="#000" stroke-width="1.15"/><circle cx="589.64" cy="114.51" r="3.1" fill="#d9c2ea" stroke="#000" stroke-width="1.15"/><circle cx="535.2" cy="167.49" r="3.1" fill="#a7f598" stroke="#000" stroke-width="1.15"/><circle cx="536.76" cy="163.44" r="3.1" fill="#30b030" stroke="#000" stroke-width="1.15"/><circle cx="613.27" cy="93.25" r="3.1" fill="#a371d0" stroke="#000" stroke-width="1.15"/><circle cx="543.05" cy="161.19" r="3.1" fill="#30b030" stroke="#000" stroke-width="1.15"/><circle cx="513.92" cy="191.35" r="3.1" fill="#ffce84" stroke="#000" stroke-width="1.15"/><circle cx="518.43" cy="184.15" r="3.1" fill="#30b030" stroke="#000" stroke-width="1.15"/><circle cx="617.56" cy="91.74" r="3.1" fill="#a371d0" stroke="#000" stroke-width="1.15"/><circle cx="545.01" cy="156.55" r="3.1" fill="#eb2b2c" stroke="#000" stroke-width="1.15"/><circle cx="567.45" cy="137.87" r="3.1" fill="#eb2b2c" stroke="#000" stroke-width="1.15"/><circle cx="542.71" cy="159.56" r="3.1" fill="#a7f598" stroke="#000" stroke-width="1.15"/><circle cx="563.83" cy="142.96" r="3.1" fill="#ffa7a5" stroke="#000" stroke-width="1.15"/><circle cx="539.75" cy="159.44" r="3.1" fill="#eb2b2c" stroke="#000" stroke-width="1.15"/><circle cx="579.55" cy="122.71" r="3.1" fill="#ffa7a5" stroke="#000" stroke-width="1.15"/><circle cx="574.98" cy="128.83" r="3.1" fill="#a371d0" stroke="#000" stroke-width="1.15"/><circle cx="509.52" cy="193.02" r="3.1" fill="#ff8c0f" stroke="#000" stroke-width="1.15"/><circle cx="501.96" cy="198.28" r="3.1" fill="#ff8c0f" stroke="#000" stroke-width="1.15"/><circle cx="496.64" cy="202.77" r="3.1" fill="#ff8c0f" stroke="#000" stroke-width="1.15"/><circle cx="537.78" cy="164.91" r="3.1" fill="#a7f598" stroke="#000" stroke-width="1.15"/><circle cx="484.3" cy="212.47" r="3.1" fill="#2283c6" stroke="#000" stroke-width="1.15"/><circle cx="514.68" cy="187.32" r="3.1" fill="#ffce84" stroke="#000" stroke-width="1.15"/><circle cx="573.27" cy="130.26" r="3.1" fill="#ffa7a5" stroke="#000" stroke-width="1.15"/><circle cx="518.18" cy="181.64" r="3.1" fill="#30b030" stroke="#000" stroke-width="1.15"/><circle cx="521.89" cy="178.09" r="3.1" fill="#30b030" stroke="#000" stroke-width="1.15"/><circle cx="546.33" cy="157.57" r="3.1" fill="#a7f598" stroke="#000" stroke-width="1.15"/><circle cx="478.07" cy="218.53" r="3.1" fill="#2283c6" stroke="#000" stroke-width="1.15"/><circle cx="547.51" cy="156.59" r="3.1" fill="#a7f598" stroke="#000" stroke-width="1.15"/><circle cx="559.5" cy="145.25" r="3.1" fill="#ffa7a5" stroke="#000" stroke-width="1.15"/><circle cx="537.65" cy="166.6" r="3.1" fill="#30b030" stroke="#000" stroke-width="1.15"/><circle cx="601.66" cy="102.27" r="3.1" fill="#a371d0" stroke="#000" stroke-width="1.15"/><circle cx="613.34" cy="94.76" r="3.1" fill="#d9c2ea" stroke="#000" stroke-width="1.15"/><circle cx="546.25" cy="153.8" r="3.1" fill="#eb2b2c" stroke="#000" stroke-width="1.15"/><circle cx="533.55" cy="169.61" r="3.1" fill="#30b030" stroke="#000" stroke-width="1.15"/><circle cx="564.9" cy="136.5" r="3.1" fill="#ffa7a5" stroke="#000" stroke-width="1.15"/><circle cx="538.06" cy="164.6" r="3.1" fill="#a7f598" stroke="#000" stroke-width="1.15"/><circle cx="502.4" cy="199.09" r="3.1" fill="#ff8c0f" stroke="#000" stroke-width="1.15"/><circle cx="584.49" cy="118.36" r="3.1" fill="#d9c2ea" stroke="#000" stroke-width="1.15"/><circle cx="564.09" cy="141.79" r="3.1" fill="#eb2b2c" stroke="#000" stroke-width="1.15"/><circle cx="636.22" cy="72.74" r="3.1" fill="#d9c2ea" stroke="#000" stroke-width="1.15"/><circle cx="550.61" cy="151.51" r="3.1" fill="#a7f598" stroke="#000" stroke-width="1.15"/><circle cx="535.38" cy="166.32" r="3.1" fill="#a7f598" stroke="#000" stroke-width="1.15"/><circle cx="540.32" cy="161.61" r="3.1" fill="#eb2b2c" stroke="#000" stroke-width="1.15"/><circle cx="544.74" cy="160.39" r="3.1" fill="#30b030" stroke="#000" stroke-width="1.15"/><circle cx="559.05" cy="145.99" r="3.1" fill="#ffa7a5" stroke="#000" stroke-width="1.15"/><circle cx="554.46" cy="151.16" r="3.1" fill="#eb2b2c" stroke="#000" stroke-width="1.15"/><circle cx="618.12" cy="90.56" r="3.1" fill="#a371d0" stroke="#000" stroke-width="1.15"/><circle cx="555.82" cy="145.36" r="3.1" fill="#ffa7a5" stroke="#000" stroke-width="1.15"/><circle cx="501" cy="201.1" r="3.1" fill="#ffce84" stroke="#000" stroke-width="1.15"/><circle cx="541.67" cy="159.72" r="3.1" fill="#eb2b2c" stroke="#000" stroke-width="1.15"/><circle cx="511.65" cy="189.78" r="3.1" fill="#ff8c0f" stroke="#000" stroke-width="1.15"/><circle cx="596.7" cy="108.65" r="3.1" fill="#d9c2ea" stroke="#000" stroke-width="1.15"/><circle cx="505.32" cy="197.54" r="3.1" fill="#ffce84" stroke="#000" stroke-width="1.15"/><circle cx="606.35" cy="100.73" r="3.1" fill="#a371d0" stroke="#000" stroke-width="1.15"/><circle cx="569.02" cy="136.31" r="3.1" fill="#ffa7a5" stroke="#000" stroke-width="1.15"/><circle cx="577.13" cy="128.39" r="3.1" fill="#eb2b2c" stroke="#000" stroke-width="1.15"/><circle cx="532.42" cy="167.64" r="3.1" fill="#a7f598" stroke="#000" stroke-width="1.15"/><circle cx="489.51" cy="211.15" r="3.1" fill="#bfdbff" stroke="#000" stroke-width="1.15"/><circle cx="608.87" cy="104.41" r="3.1" fill="#a371d0" stroke="#000" stroke-width="1.15"/><circle cx="522.82" cy="179.66" r="3.1" fill="#ffce84" stroke="#000" stroke-width="1.15"/><circle cx="535.59" cy="167.59" r="3.1" fill="#a7f598" stroke="#000" stroke-width="1.15"/><circle cx="542.04" cy="161.72" r="3.1" fill="#a7f598" stroke="#000" stroke-width="1.15"/><circle cx="578.55" cy="127.15" r="3.1" fill="#eb2b2c" stroke="#000" stroke-width="1.15"/><circle cx="501.58" cy="196.33" r="3.1" fill="#bfdbff" stroke="#000" stroke-width="1.15"/><circle cx="629.74" cy="82.45" r="3.1" fill="#d9c2ea" stroke="#000" stroke-width="1.15"/><circle cx="497.18" cy="199.5" r="3.1" fill="#bfdbff" stroke="#000" stroke-width="1.15"/><circle cx="476.86" cy="221.72" r="3.1" fill="#2283c6" stroke="#000" stroke-width="1.15"/><circle cx="491" cy="212.88" r="3.1" fill="#2283c6" stroke="#000" stroke-width="1.15"/><circle cx="489.12" cy="209.08" r="3.1" fill="#2283c6" stroke="#000" stroke-width="1.15"/><circle cx="529.51" cy="170.74" r="3.1" fill="#30b030" stroke="#000" stroke-width="1.15"/><circle cx="565.16" cy="139.6" r="3.1" fill="#a371d0" stroke="#000" stroke-width="1.15"/><circle cx="591.87" cy="112.53" r="3.1" fill="#a371d0" stroke="#000" stroke-width="1.15"/><circle cx="548.22" cy="157.52" r="3.1" fill="#a7f598" stroke="#000" stroke-width="1.15"/><circle cx="501.21" cy="198.41" r="3.1" fill="#bfdbff" stroke="#000" stroke-width="1.15"/><circle cx="495.98" cy="205.92" r="3.1" fill="#ff8c0f" stroke="#000" stroke-width="1.15"/><circle cx="564.84" cy="137.2" r="3.1" fill="#eb2b2c" stroke="#000" stroke-width="1.15"/><circle cx="473.88" cy="222.79" r="3.1" fill="#2283c6" stroke="#000" stroke-width="1.15"/><circle cx="505.68" cy="195.06" r="3.1" fill="#ffce84" stroke="#000" stroke-width="1.15"/><circle cx="587.15" cy="114.94" r="3.1" fill="#ffa7a5" stroke="#000" stroke-width="1.15"/><circle cx="519.26" cy="179.97" r="3.1" fill="#30b030" stroke="#000" stroke-width="1.15"/><circle cx="525.88" cy="174.85" r="3.1" fill="#a7f598" stroke="#000" stroke-width="1.15"/><circle cx="479.42" cy="219.65" r="3.1" fill="#2283c6" stroke="#000" stroke-width="1.15"/><circle cx="592.6" cy="116.16" r="3.1" fill="#d9c2ea" stroke="#000" stroke-width="1.15"/><circle cx="495.33" cy="200.87" r="3.1" fill="#ff8c0f" stroke="#000" stroke-width="1.15"/><circle cx="623.9" cy="87.16" r="3.1" fill="#d9c2ea" stroke="#000" stroke-width="1.15"/><circle cx="524.78" cy="175.48" r="3.1" fill="#30b030" stroke="#000" stroke-width="1.15"/><circle cx="521.67" cy="181.27" r="3.1" fill="#ff8c0f" stroke="#000" stroke-width="1.15"/><circle cx="498.44" cy="199.03" r="3.1" fill="#ff8c0f" stroke="#000" stroke-width="1.15"/><circle cx="498.39" cy="199.38" r="3.1" fill="#2283c6" stroke="#000" stroke-width="1.15"/><circle cx="498.9" cy="196.5" r="3.1" fill="#2283c6" stroke="#000" stroke-width="1.15"/><circle cx="557.51" cy="146.62" r="3.1" fill="#ffa7a5" stroke="#000" stroke-width="1.15"/><circle cx="495.97" cy="202.89" r="3.1" fill="#2283c6" stroke="#000" stroke-width="1.15"/><circle cx="511.97" cy="186.89" r="3.1" fill="#ff8c0f" stroke="#000" stroke-width="1.15"/><circle cx="504.96" cy="195.46" r="3.1" fill="#ffce84" stroke="#000" stroke-width="1.15"/><circle cx="607.08" cy="98.78" r="3.1" fill="#a371d0" stroke="#000" stroke-width="1.15"/><circle cx="479.3" cy="222.28" r="3.1" fill="#bfdbff" stroke="#000" stroke-width="1.15"/><circle cx="495.85" cy="206.53" r="3.1" fill="#ff8c0f" stroke="#000" stroke-width="1.15"/><circle cx="623.44" cy="84.21" r="3.1" fill="#d9c2ea" stroke="#000" stroke-width="1.15"/><circle cx="569.64" cy="133.22" r="3.1" fill="#ffa7a5" stroke="#000" stroke-width="1.15"/><circle cx="615.94" cy="95.15" r="3.1" fill="#a371d0" stroke="#000" stroke-width="1.15"/><circle cx="504.91" cy="195.77" r="3.1" fill="#ff8c0f" stroke="#000" stroke-width="1.15"/><circle cx="539.71" cy="161.18" r="3.1" fill="#eb2b2c" stroke="#000" stroke-width="1.15"/><circle cx="498.78" cy="201.08" r="3.1" fill="#2283c6" stroke="#000" stroke-width="1.15"/><circle cx="500.98" cy="197.98" r="3.1" fill="#bfdbff" stroke="#000" stroke-width="1.15"/><circle cx="586.48" cy="121.49" r="3.1" fill="#ffa7a5" stroke="#000" stroke-width="1.15"/><circle cx="565.23" cy="139.46" r="3.1" fill="#ffa7a5" stroke="#000" stroke-width="1.15"/><circle cx="463.94" cy="235.96" r="3.1" fill="#2283c6" stroke="#000" stroke-width="1.15"/><circle cx="639.02" cy="70.35" r="3.1" fill="#d9c2ea" stroke="#000" stroke-width="1.15"/><circle cx="635.88" cy="71.09" r="3.1" fill="#d9c2ea" stroke="#000" stroke-width="1.15"/><circle cx="646.07" cy="62.59" r="3.1" fill="#d9c2ea" stroke="#000" stroke-width="1.15"/></g><line x1="442.4" y1="257.4" x2="677.4" y2="35.6" stroke="#000" stroke-width="1.9" /><rect x="442.4" y="35.6" width="235" height="221.8" fill="none" stroke="#000" stroke-width="1.2"/><line x1="450.23" y1="257.4" x2="450.23" y2="254.4" stroke="#000" stroke-width="0.9" /><line x1="450.23" y1="35.6" x2="450.23" y2="38.6" stroke="#000" stroke-width="0.9" /><line x1="442.4" y1="250.01" x2="445.4" y2="250.01" stroke="#000" stroke-width="0.9" /><line x1="677.4" y1="250.01" x2="674.4" y2="250.01" stroke="#000" stroke-width="0.9" /><line x1="458.07" y1="257.4" x2="458.07" y2="254.4" stroke="#000" stroke-width="0.9" /><line x1="458.07" y1="35.6" x2="458.07" y2="38.6" stroke="#000" stroke-width="0.9" /><line x1="442.4" y1="242.61" x2="445.4" y2="242.61" stroke="#000" stroke-width="0.9" /><line x1="677.4" y1="242.61" x2="674.4" y2="242.61" stroke="#000" stroke-width="0.9" /><line x1="465.9" y1="257.4" x2="465.9" y2="254.4" stroke="#000" stroke-width="0.9" /><line x1="465.9" y1="35.6" x2="465.9" y2="38.6" stroke="#000" stroke-width="0.9" /><line x1="442.4" y1="235.22" x2="445.4" y2="235.22" stroke="#000" stroke-width="0.9" /><line x1="677.4" y1="235.22" x2="674.4" y2="235.22" stroke="#000" stroke-width="0.9" /><line x1="473.73" y1="257.4" x2="473.73" y2="254.4" stroke="#000" stroke-width="0.9" /><line x1="473.73" y1="35.6" x2="473.73" y2="38.6" stroke="#000" stroke-width="0.9" /><line x1="442.4" y1="227.83" x2="445.4" y2="227.83" stroke="#000" stroke-width="0.9" /><line x1="677.4" y1="227.83" x2="674.4" y2="227.83" stroke="#000" stroke-width="0.9" /><line x1="481.57" y1="257.4" x2="481.57" y2="252.1" stroke="#000" stroke-width="1.15" /><line x1="481.57" y1="35.6" x2="481.57" y2="40.9" stroke="#000" stroke-width="1.15" /><line x1="442.4" y1="220.43" x2="447.7" y2="220.43" stroke="#000" stroke-width="1.15" /><line x1="677.4" y1="220.43" x2="672.1" y2="220.43" stroke="#000" stroke-width="1.15" /><line x1="489.4" y1="257.4" x2="489.4" y2="254.4" stroke="#000" stroke-width="0.9" /><line x1="489.4" y1="35.6" x2="489.4" y2="38.6" stroke="#000" stroke-width="0.9" /><line x1="442.4" y1="213.04" x2="445.4" y2="213.04" stroke="#000" stroke-width="0.9" /><line x1="677.4" y1="213.04" x2="674.4" y2="213.04" stroke="#000" stroke-width="0.9" /><line x1="497.23" y1="257.4" x2="497.23" y2="254.4" stroke="#000" stroke-width="0.9" /><line x1="497.23" y1="35.6" x2="497.23" y2="38.6" stroke="#000" stroke-width="0.9" /><line x1="442.4" y1="205.65" x2="445.4" y2="205.65" stroke="#000" stroke-width="0.9" /><line x1="677.4" y1="205.65" x2="674.4" y2="205.65" stroke="#000" stroke-width="0.9" /><line x1="505.07" y1="257.4" x2="505.07" y2="254.4" stroke="#000" stroke-width="0.9" /><line x1="505.07" y1="35.6" x2="505.07" y2="38.6" stroke="#000" stroke-width="0.9" /><line x1="442.4" y1="198.25" x2="445.4" y2="198.25" stroke="#000" stroke-width="0.9" /><line x1="677.4" y1="198.25" x2="674.4" y2="198.25" stroke="#000" stroke-width="0.9" /><line x1="512.9" y1="257.4" x2="512.9" y2="254.4" stroke="#000" stroke-width="0.9" /><line x1="512.9" y1="35.6" x2="512.9" y2="38.6" stroke="#000" stroke-width="0.9" /><line x1="442.4" y1="190.86" x2="445.4" y2="190.86" stroke="#000" stroke-width="0.9" /><line x1="677.4" y1="190.86" x2="674.4" y2="190.86" stroke="#000" stroke-width="0.9" /><line x1="520.73" y1="257.4" x2="520.73" y2="252.1" stroke="#000" stroke-width="1.15" /><line x1="520.73" y1="35.6" x2="520.73" y2="40.9" stroke="#000" stroke-width="1.15" /><line x1="442.4" y1="183.47" x2="447.7" y2="183.47" stroke="#000" stroke-width="1.15" /><line x1="677.4" y1="183.47" x2="672.1" y2="183.47" stroke="#000" stroke-width="1.15" /><line x1="528.57" y1="257.4" x2="528.57" y2="254.4" stroke="#000" stroke-width="0.9" /><line x1="528.57" y1="35.6" x2="528.57" y2="38.6" stroke="#000" stroke-width="0.9" /><line x1="442.4" y1="176.07" x2="445.4" y2="176.07" stroke="#000" stroke-width="0.9" /><line x1="677.4" y1="176.07" x2="674.4" y2="176.07" stroke="#000" stroke-width="0.9" /><line x1="536.4" y1="257.4" x2="536.4" y2="254.4" stroke="#000" stroke-width="0.9" /><line x1="536.4" y1="35.6" x2="536.4" y2="38.6" stroke="#000" stroke-width="0.9" /><line x1="442.4" y1="168.68" x2="445.4" y2="168.68" stroke="#000" stroke-width="0.9" /><line x1="677.4" y1="168.68" x2="674.4" y2="168.68" stroke="#000" stroke-width="0.9" /><line x1="544.23" y1="257.4" x2="544.23" y2="254.4" stroke="#000" stroke-width="0.9" /><line x1="544.23" y1="35.6" x2="544.23" y2="38.6" stroke="#000" stroke-width="0.9" /><line x1="442.4" y1="161.29" x2="445.4" y2="161.29" stroke="#000" stroke-width="0.9" /><line x1="677.4" y1="161.29" x2="674.4" y2="161.29" stroke="#000" stroke-width="0.9" /><line x1="552.07" y1="257.4" x2="552.07" y2="254.4" stroke="#000" stroke-width="0.9" /><line x1="552.07" y1="35.6" x2="552.07" y2="38.6" stroke="#000" stroke-width="0.9" /><line x1="442.4" y1="153.89" x2="445.4" y2="153.89" stroke="#000" stroke-width="0.9" /><line x1="677.4" y1="153.89" x2="674.4" y2="153.89" stroke="#000" stroke-width="0.9" /><line x1="559.9" y1="257.4" x2="559.9" y2="252.1" stroke="#000" stroke-width="1.15" /><line x1="559.9" y1="35.6" x2="559.9" y2="40.9" stroke="#000" stroke-width="1.15" /><line x1="442.4" y1="146.5" x2="447.7" y2="146.5" stroke="#000" stroke-width="1.15" /><line x1="677.4" y1="146.5" x2="672.1" y2="146.5" stroke="#000" stroke-width="1.15" /><line x1="567.73" y1="257.4" x2="567.73" y2="254.4" stroke="#000" stroke-width="0.9" /><line x1="567.73" y1="35.6" x2="567.73" y2="38.6" stroke="#000" stroke-width="0.9" /><line x1="442.4" y1="139.11" x2="445.4" y2="139.11" stroke="#000" stroke-width="0.9" /><line x1="677.4" y1="139.11" x2="674.4" y2="139.11" stroke="#000" stroke-width="0.9" /><line x1="575.57" y1="257.4" x2="575.57" y2="254.4" stroke="#000" stroke-width="0.9" /><line x1="575.57" y1="35.6" x2="575.57" y2="38.6" stroke="#000" stroke-width="0.9" /><line x1="442.4" y1="131.71" x2="445.4" y2="131.71" stroke="#000" stroke-width="0.9" /><line x1="677.4" y1="131.71" x2="674.4" y2="131.71" stroke="#000" stroke-width="0.9" /><line x1="583.4" y1="257.4" x2="583.4" y2="254.4" stroke="#000" stroke-width="0.9" /><line x1="583.4" y1="35.6" x2="583.4" y2="38.6" stroke="#000" stroke-width="0.9" /><line x1="442.4" y1="124.32" x2="445.4" y2="124.32" stroke="#000" stroke-width="0.9" /><line x1="677.4" y1="124.32" x2="674.4" y2="124.32" stroke="#000" stroke-width="0.9" /><line x1="591.23" y1="257.4" x2="591.23" y2="254.4" stroke="#000" stroke-width="0.9" /><line x1="591.23" y1="35.6" x2="591.23" y2="38.6" stroke="#000" stroke-width="0.9" /><line x1="442.4" y1="116.93" x2="445.4" y2="116.93" stroke="#000" stroke-width="0.9" /><line x1="677.4" y1="116.93" x2="674.4" y2="116.93" stroke="#000" stroke-width="0.9" /><line x1="599.07" y1="257.4" x2="599.07" y2="252.1" stroke="#000" stroke-width="1.15" /><line x1="599.07" y1="35.6" x2="599.07" y2="40.9" stroke="#000" stroke-width="1.15" /><line x1="442.4" y1="109.53" x2="447.7" y2="109.53" stroke="#000" stroke-width="1.15" /><line x1="677.4" y1="109.53" x2="672.1" y2="109.53" stroke="#000" stroke-width="1.15" /><line x1="606.9" y1="257.4" x2="606.9" y2="254.4" stroke="#000" stroke-width="0.9" /><line x1="606.9" y1="35.6" x2="606.9" y2="38.6" stroke="#000" stroke-width="0.9" /><line x1="442.4" y1="102.14" x2="445.4" y2="102.14" stroke="#000" stroke-width="0.9" /><line x1="677.4" y1="102.14" x2="674.4" y2="102.14" stroke="#000" stroke-width="0.9" /><line x1="614.73" y1="257.4" x2="614.73" y2="254.4" stroke="#000" stroke-width="0.9" /><line x1="614.73" y1="35.6" x2="614.73" y2="38.6" stroke="#000" stroke-width="0.9" /><line x1="442.4" y1="94.75" x2="445.4" y2="94.75" stroke="#000" stroke-width="0.9" /><line x1="677.4" y1="94.75" x2="674.4" y2="94.75" stroke="#000" stroke-width="0.9" /><line x1="622.57" y1="257.4" x2="622.57" y2="254.4" stroke="#000" stroke-width="0.9" /><line x1="622.57" y1="35.6" x2="622.57" y2="38.6" stroke="#000" stroke-width="0.9" /><line x1="442.4" y1="87.35" x2="445.4" y2="87.35" stroke="#000" stroke-width="0.9" /><line x1="677.4" y1="87.35" x2="674.4" y2="87.35" stroke="#000" stroke-width="0.9" /><line x1="630.4" y1="257.4" x2="630.4" y2="254.4" stroke="#000" stroke-width="0.9" /><line x1="630.4" y1="35.6" x2="630.4" y2="38.6" stroke="#000" stroke-width="0.9" /><line x1="442.4" y1="79.96" x2="445.4" y2="79.96" stroke="#000" stroke-width="0.9" /><line x1="677.4" y1="79.96" x2="674.4" y2="79.96" stroke="#000" stroke-width="0.9" /><line x1="638.23" y1="257.4" x2="638.23" y2="252.1" stroke="#000" stroke-width="1.15" /><line x1="638.23" y1="35.6" x2="638.23" y2="40.9" stroke="#000" stroke-width="1.15" /><line x1="442.4" y1="72.57" x2="447.7" y2="72.57" stroke="#000" stroke-width="1.15" /><line x1="677.4" y1="72.57" x2="672.1" y2="72.57" stroke="#000" stroke-width="1.15" /><line x1="646.07" y1="257.4" x2="646.07" y2="254.4" stroke="#000" stroke-width="0.9" /><line x1="646.07" y1="35.6" x2="646.07" y2="38.6" stroke="#000" stroke-width="0.9" /><line x1="442.4" y1="65.17" x2="445.4" y2="65.17" stroke="#000" stroke-width="0.9" /><line x1="677.4" y1="65.17" x2="674.4" y2="65.17" stroke="#000" stroke-width="0.9" /><line x1="653.9" y1="257.4" x2="653.9" y2="254.4" stroke="#000" stroke-width="0.9" /><line x1="653.9" y1="35.6" x2="653.9" y2="38.6" stroke="#000" stroke-width="0.9" /><line x1="442.4" y1="57.78" x2="445.4" y2="57.78" stroke="#000" stroke-width="0.9" /><line x1="677.4" y1="57.78" x2="674.4" y2="57.78" stroke="#000" stroke-width="0.9" /><line x1="661.73" y1="257.4" x2="661.73" y2="254.4" stroke="#000" stroke-width="0.9" /><line x1="661.73" y1="35.6" x2="661.73" y2="38.6" stroke="#000" stroke-width="0.9" /><line x1="442.4" y1="50.39" x2="445.4" y2="50.39" stroke="#000" stroke-width="0.9" /><line x1="677.4" y1="50.39" x2="674.4" y2="50.39" stroke="#000" stroke-width="0.9" /><line x1="669.57" y1="257.4" x2="669.57" y2="254.4" stroke="#000" stroke-width="0.9" /><line x1="669.57" y1="35.6" x2="669.57" y2="38.6" stroke="#000" stroke-width="0.9" /><line x1="442.4" y1="42.99" x2="445.4" y2="42.99" stroke="#000" stroke-width="0.9" /><line x1="677.4" y1="42.99" x2="674.4" y2="42.99" stroke="#000" stroke-width="0.9" /><line x1="406.49" y1="259.2" x2="415.89" y2="259.2" stroke="#111" stroke-width="1.0" /><text x="417.49" y="262.8" font-size="14.3" text-anchor="start" font-family='"Liberation Sans", sans-serif' >60</text><line x1="428.15" y1="270.6" x2="437.55" y2="270.6" stroke="#111" stroke-width="1.0" /><text x="439.15" y="274.2" font-size="14.3" text-anchor="start" font-family='"Liberation Sans", sans-serif' >60</text><line x1="406.49" y1="222.23" x2="415.89" y2="222.23" stroke="#111" stroke-width="1.0" /><text x="417.49" y="225.83" font-size="14.3" text-anchor="start" font-family='"Liberation Sans", sans-serif' >50</text><line x1="467.31" y1="270.6" x2="476.71" y2="270.6" stroke="#111" stroke-width="1.0" /><text x="478.31" y="274.2" font-size="14.3" text-anchor="start" font-family='"Liberation Sans", sans-serif' >50</text><line x1="406.49" y1="185.27" x2="415.89" y2="185.27" stroke="#111" stroke-width="1.0" /><text x="417.49" y="188.87" font-size="14.3" text-anchor="start" font-family='"Liberation Sans", sans-serif' >40</text><line x1="506.48" y1="270.6" x2="515.88" y2="270.6" stroke="#111" stroke-width="1.0" /><text x="517.48" y="274.2" font-size="14.3" text-anchor="start" font-family='"Liberation Sans", sans-serif' >40</text><line x1="406.49" y1="148.3" x2="415.89" y2="148.3" stroke="#111" stroke-width="1.0" /><text x="417.49" y="151.9" font-size="14.3" text-anchor="start" font-family='"Liberation Sans", sans-serif' >30</text><line x1="545.65" y1="270.6" x2="555.05" y2="270.6" stroke="#111" stroke-width="1.0" /><text x="556.65" y="274.2" font-size="14.3" text-anchor="start" font-family='"Liberation Sans", sans-serif' >30</text><line x1="406.49" y1="111.33" x2="415.89" y2="111.33" stroke="#111" stroke-width="1.0" /><text x="417.49" y="114.93" font-size="14.3" text-anchor="start" font-family='"Liberation Sans", sans-serif' >20</text><line x1="584.81" y1="270.6" x2="594.21" y2="270.6" stroke="#111" stroke-width="1.0" /><text x="595.81" y="274.2" font-size="14.3" text-anchor="start" font-family='"Liberation Sans", sans-serif' >20</text><line x1="406.49" y1="74.37" x2="415.89" y2="74.37" stroke="#111" stroke-width="1.0" /><text x="417.49" y="77.97" font-size="14.3" text-anchor="start" font-family='"Liberation Sans", sans-serif' >&#8199;0</text><path transform="translate(417.49,77.97) scale(0.00698,-0.00698)" d="M515,0 L515,1237 L197,1010 L197,1180 L530,1409 L696,1409 L696,0 Z"/><line x1="623.98" y1="270.6" x2="633.38" y2="270.6" stroke="#111" stroke-width="1.0" /><text x="634.98" y="274.2" font-size="14.3" text-anchor="start" font-family='"Liberation Sans", sans-serif' >&#8199;0</text><path transform="translate(634.98,274.2) scale(0.00698,-0.00698)" d="M515,0 L515,1237 L197,1010 L197,1180 L530,1409 L696,1409 L696,0 Z"/><text x="425.45" y="41" font-size="14.3" text-anchor="start" font-family='"Liberation Sans", sans-serif' >0</text><text x="672.62" y="274.2" font-size="14.3" text-anchor="start" font-family='"Liberation Sans", sans-serif' >0</text><rect x="448.9" y="42.2" width="151.3" height="43.5" rx="3" fill="#fff" fill-opacity="0.85" stroke="#d2d2d2" stroke-width="1.1"/><circle cx="470.2" cy="55.7" r="3.6" fill="#2283c6" stroke="#000" stroke-width="1.0"/><circle cx="470.2" cy="74.4" r="3.6" fill="#ff8c0f" stroke="#000" stroke-width="1.0"/><text x="492.8" y="58.6" font-family='"Liberation Sans", sans-serif' font-size="13">Co<tspan font-size="10.4" dy="2.9">44</tspan><tspan dy="-2.9" dx="2.4">Ni</tspan><tspan font-size="10.4" dy="2.9">32</tspan><tspan dy="-2.9" dx="1.6">Al</tspan><tspan font-size="10.4" dy="2.9">8</tspan><tspan dy="-2.9" dx="1.6">Cr</tspan><tspan font-size="10.4" dy="2.9">24</tspan></text><text x="493" y="77.8" font-family='"Liberation Sans", sans-serif' font-size="13">&#8230;</text><text transform="translate(507.6,218.9) scale(1.12,1)" x="0" y="0" font-family='"Liberation Serif", serif' font-size="14.5" textLength="9.11" lengthAdjust="spacing" fill="#404040" >R</text><text x="518.3" y="214" font-family='"Liberation Serif", serif' font-size="10" fill="#404040">2</text><text transform="translate(525.5,218.9) scale(1.12,1)" x="0" y="0" font-family='"Liberation Serif", serif' font-size="14.5" textLength="43.04" lengthAdjust="spacing" fill="#404040" >=0.994</text><text transform="translate(507.6,234.3) scale(1.12,1)" x="0" y="0" font-family='"Liberation Serif", serif' font-size="14.5" textLength="148.66" lengthAdjust="spacing" fill="#404040" >MAE=0.599 meV/atom</text><text transform="translate(487.8,295.8) scale(1.12,1)" x="0" y="0" font-family='"Liberation Serif", serif' font-size="14.5" textLength="27.86" lengthAdjust="spacing" fill="#404040" >True</text><text x="524.3" y="295.3" font-family='"Liberation Sans", sans-serif' font-size="14.3" font-style="italic" fill="#2a2a2a">E</text><text x="532.6" y="297.6" font-family='"Liberation Sans", sans-serif' font-size="9.8" font-style="italic">f</text><text transform="translate(544.3,295.8) scale(1.12,1)" x="0" y="0" font-family='"Liberation Serif", serif' font-size="14.5" textLength="76.61" lengthAdjust="spacing" fill="#404040" >(meV/atom)</text><g transform="translate(395.2,0) rotate(-90)"><text x="-212.8" y="0" font-family='"Liberation Sans", sans-serif' font-size="14.3" font-style="italic" fill="#2a2a2a">E</text><text x="-203.6" y="1.6" font-family='"Liberation Sans", sans-serif' font-size="9.8" font-style="italic">f<tspan font-style="normal">,GNN</tspan></text></g><text transform="translate(394.7,168.5) rotate(-90) scale(1.12,1)" x="0" y="0" font-family='"Liberation Serif", serif' font-size="14.5" textLength="77.05" lengthAdjust="spacing" fill="#404040" >(meV/atom)</text><text x="415.1" y="19.6" font-family='"Liberation Sans", sans-serif' font-size="21">(b)</text></svg></body></html>
